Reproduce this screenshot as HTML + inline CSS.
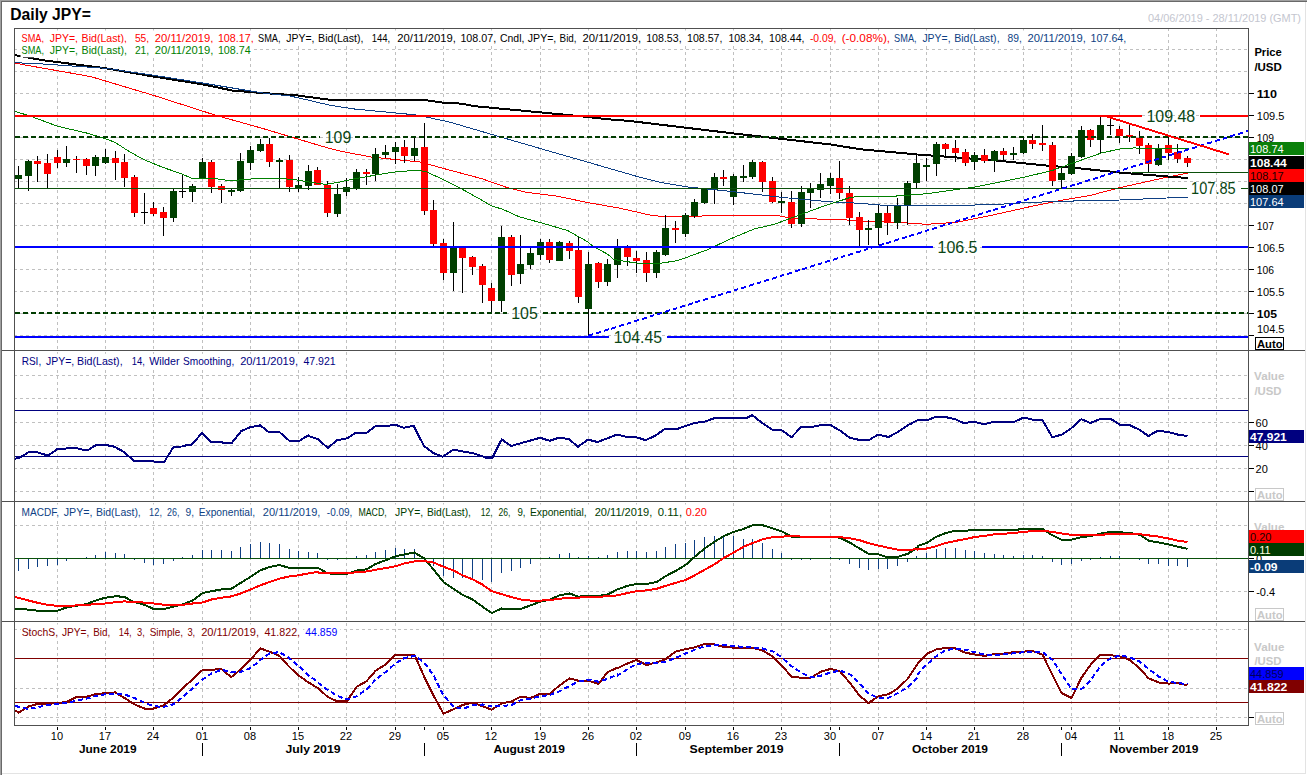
<!DOCTYPE html>
<html><head><meta charset="utf-8"><title>Daily JPY=</title>
<style>html,body{margin:0;padding:0;background:#fff}svg{display:block}</style></head>
<body>
<svg width="1307" height="775" viewBox="0 0 1307 775" font-family="Liberation Sans, sans-serif">
<rect width="1307" height="775" fill="#fff"/>
<g shape-rendering="crispEdges">
<rect x="0" y="0" width="1307" height="1" fill="#a0a0a0"/><rect x="0" y="0" width="1" height="775" fill="#a0a0a0"/>
<rect x="1" y="1" width="1306" height="1" fill="#696969"/><rect x="1" y="1" width="1" height="774" fill="#696969"/>
<rect x="1305" y="2" width="1" height="772" fill="#e3e3e3"/><rect x="2" y="773" width="1304" height="1" fill="#e3e3e3"/>
<line x1="57.5" x2="57.5" y1="28" y2="350" stroke="#c0c0c0" stroke-width="1" stroke-dasharray="3 3"/>
<line x1="57.5" x2="57.5" y1="352" y2="501" stroke="#c0c0c0" stroke-width="1" stroke-dasharray="3 3"/>
<line x1="57.5" x2="57.5" y1="503" y2="621" stroke="#c0c0c0" stroke-width="1" stroke-dasharray="3 3"/>
<line x1="57.5" x2="57.5" y1="623" y2="725" stroke="#c0c0c0" stroke-width="1" stroke-dasharray="3 3"/>
<line x1="105.5" x2="105.5" y1="28" y2="350" stroke="#c0c0c0" stroke-width="1" stroke-dasharray="3 3"/>
<line x1="105.5" x2="105.5" y1="352" y2="501" stroke="#c0c0c0" stroke-width="1" stroke-dasharray="3 3"/>
<line x1="105.5" x2="105.5" y1="503" y2="621" stroke="#c0c0c0" stroke-width="1" stroke-dasharray="3 3"/>
<line x1="105.5" x2="105.5" y1="623" y2="725" stroke="#c0c0c0" stroke-width="1" stroke-dasharray="3 3"/>
<line x1="153.5" x2="153.5" y1="28" y2="350" stroke="#c0c0c0" stroke-width="1" stroke-dasharray="3 3"/>
<line x1="153.5" x2="153.5" y1="352" y2="501" stroke="#c0c0c0" stroke-width="1" stroke-dasharray="3 3"/>
<line x1="153.5" x2="153.5" y1="503" y2="621" stroke="#c0c0c0" stroke-width="1" stroke-dasharray="3 3"/>
<line x1="153.5" x2="153.5" y1="623" y2="725" stroke="#c0c0c0" stroke-width="1" stroke-dasharray="3 3"/>
<line x1="202.5" x2="202.5" y1="28" y2="350" stroke="#c0c0c0" stroke-width="1" stroke-dasharray="3 3"/>
<line x1="202.5" x2="202.5" y1="352" y2="501" stroke="#c0c0c0" stroke-width="1" stroke-dasharray="3 3"/>
<line x1="202.5" x2="202.5" y1="503" y2="621" stroke="#c0c0c0" stroke-width="1" stroke-dasharray="3 3"/>
<line x1="202.5" x2="202.5" y1="623" y2="725" stroke="#c0c0c0" stroke-width="1" stroke-dasharray="3 3"/>
<line x1="250.5" x2="250.5" y1="28" y2="350" stroke="#c0c0c0" stroke-width="1" stroke-dasharray="3 3"/>
<line x1="250.5" x2="250.5" y1="352" y2="501" stroke="#c0c0c0" stroke-width="1" stroke-dasharray="3 3"/>
<line x1="250.5" x2="250.5" y1="503" y2="621" stroke="#c0c0c0" stroke-width="1" stroke-dasharray="3 3"/>
<line x1="250.5" x2="250.5" y1="623" y2="725" stroke="#c0c0c0" stroke-width="1" stroke-dasharray="3 3"/>
<line x1="298.5" x2="298.5" y1="28" y2="350" stroke="#c0c0c0" stroke-width="1" stroke-dasharray="3 3"/>
<line x1="298.5" x2="298.5" y1="352" y2="501" stroke="#c0c0c0" stroke-width="1" stroke-dasharray="3 3"/>
<line x1="298.5" x2="298.5" y1="503" y2="621" stroke="#c0c0c0" stroke-width="1" stroke-dasharray="3 3"/>
<line x1="298.5" x2="298.5" y1="623" y2="725" stroke="#c0c0c0" stroke-width="1" stroke-dasharray="3 3"/>
<line x1="346.5" x2="346.5" y1="28" y2="350" stroke="#c0c0c0" stroke-width="1" stroke-dasharray="3 3"/>
<line x1="346.5" x2="346.5" y1="352" y2="501" stroke="#c0c0c0" stroke-width="1" stroke-dasharray="3 3"/>
<line x1="346.5" x2="346.5" y1="503" y2="621" stroke="#c0c0c0" stroke-width="1" stroke-dasharray="3 3"/>
<line x1="346.5" x2="346.5" y1="623" y2="725" stroke="#c0c0c0" stroke-width="1" stroke-dasharray="3 3"/>
<line x1="395.5" x2="395.5" y1="28" y2="350" stroke="#c0c0c0" stroke-width="1" stroke-dasharray="3 3"/>
<line x1="395.5" x2="395.5" y1="352" y2="501" stroke="#c0c0c0" stroke-width="1" stroke-dasharray="3 3"/>
<line x1="395.5" x2="395.5" y1="503" y2="621" stroke="#c0c0c0" stroke-width="1" stroke-dasharray="3 3"/>
<line x1="395.5" x2="395.5" y1="623" y2="725" stroke="#c0c0c0" stroke-width="1" stroke-dasharray="3 3"/>
<line x1="443.5" x2="443.5" y1="28" y2="350" stroke="#c0c0c0" stroke-width="1" stroke-dasharray="3 3"/>
<line x1="443.5" x2="443.5" y1="352" y2="501" stroke="#c0c0c0" stroke-width="1" stroke-dasharray="3 3"/>
<line x1="443.5" x2="443.5" y1="503" y2="621" stroke="#c0c0c0" stroke-width="1" stroke-dasharray="3 3"/>
<line x1="443.5" x2="443.5" y1="623" y2="725" stroke="#c0c0c0" stroke-width="1" stroke-dasharray="3 3"/>
<line x1="491.5" x2="491.5" y1="28" y2="350" stroke="#c0c0c0" stroke-width="1" stroke-dasharray="3 3"/>
<line x1="491.5" x2="491.5" y1="352" y2="501" stroke="#c0c0c0" stroke-width="1" stroke-dasharray="3 3"/>
<line x1="491.5" x2="491.5" y1="503" y2="621" stroke="#c0c0c0" stroke-width="1" stroke-dasharray="3 3"/>
<line x1="491.5" x2="491.5" y1="623" y2="725" stroke="#c0c0c0" stroke-width="1" stroke-dasharray="3 3"/>
<line x1="540.5" x2="540.5" y1="28" y2="350" stroke="#c0c0c0" stroke-width="1" stroke-dasharray="3 3"/>
<line x1="540.5" x2="540.5" y1="352" y2="501" stroke="#c0c0c0" stroke-width="1" stroke-dasharray="3 3"/>
<line x1="540.5" x2="540.5" y1="503" y2="621" stroke="#c0c0c0" stroke-width="1" stroke-dasharray="3 3"/>
<line x1="540.5" x2="540.5" y1="623" y2="725" stroke="#c0c0c0" stroke-width="1" stroke-dasharray="3 3"/>
<line x1="588.5" x2="588.5" y1="28" y2="350" stroke="#c0c0c0" stroke-width="1" stroke-dasharray="3 3"/>
<line x1="588.5" x2="588.5" y1="352" y2="501" stroke="#c0c0c0" stroke-width="1" stroke-dasharray="3 3"/>
<line x1="588.5" x2="588.5" y1="503" y2="621" stroke="#c0c0c0" stroke-width="1" stroke-dasharray="3 3"/>
<line x1="588.5" x2="588.5" y1="623" y2="725" stroke="#c0c0c0" stroke-width="1" stroke-dasharray="3 3"/>
<line x1="636.5" x2="636.5" y1="28" y2="350" stroke="#c0c0c0" stroke-width="1" stroke-dasharray="3 3"/>
<line x1="636.5" x2="636.5" y1="352" y2="501" stroke="#c0c0c0" stroke-width="1" stroke-dasharray="3 3"/>
<line x1="636.5" x2="636.5" y1="503" y2="621" stroke="#c0c0c0" stroke-width="1" stroke-dasharray="3 3"/>
<line x1="636.5" x2="636.5" y1="623" y2="725" stroke="#c0c0c0" stroke-width="1" stroke-dasharray="3 3"/>
<line x1="685.5" x2="685.5" y1="28" y2="350" stroke="#c0c0c0" stroke-width="1" stroke-dasharray="3 3"/>
<line x1="685.5" x2="685.5" y1="352" y2="501" stroke="#c0c0c0" stroke-width="1" stroke-dasharray="3 3"/>
<line x1="685.5" x2="685.5" y1="503" y2="621" stroke="#c0c0c0" stroke-width="1" stroke-dasharray="3 3"/>
<line x1="685.5" x2="685.5" y1="623" y2="725" stroke="#c0c0c0" stroke-width="1" stroke-dasharray="3 3"/>
<line x1="733.5" x2="733.5" y1="28" y2="350" stroke="#c0c0c0" stroke-width="1" stroke-dasharray="3 3"/>
<line x1="733.5" x2="733.5" y1="352" y2="501" stroke="#c0c0c0" stroke-width="1" stroke-dasharray="3 3"/>
<line x1="733.5" x2="733.5" y1="503" y2="621" stroke="#c0c0c0" stroke-width="1" stroke-dasharray="3 3"/>
<line x1="733.5" x2="733.5" y1="623" y2="725" stroke="#c0c0c0" stroke-width="1" stroke-dasharray="3 3"/>
<line x1="781.5" x2="781.5" y1="28" y2="350" stroke="#c0c0c0" stroke-width="1" stroke-dasharray="3 3"/>
<line x1="781.5" x2="781.5" y1="352" y2="501" stroke="#c0c0c0" stroke-width="1" stroke-dasharray="3 3"/>
<line x1="781.5" x2="781.5" y1="503" y2="621" stroke="#c0c0c0" stroke-width="1" stroke-dasharray="3 3"/>
<line x1="781.5" x2="781.5" y1="623" y2="725" stroke="#c0c0c0" stroke-width="1" stroke-dasharray="3 3"/>
<line x1="830.5" x2="830.5" y1="28" y2="350" stroke="#c0c0c0" stroke-width="1" stroke-dasharray="3 3"/>
<line x1="830.5" x2="830.5" y1="352" y2="501" stroke="#c0c0c0" stroke-width="1" stroke-dasharray="3 3"/>
<line x1="830.5" x2="830.5" y1="503" y2="621" stroke="#c0c0c0" stroke-width="1" stroke-dasharray="3 3"/>
<line x1="830.5" x2="830.5" y1="623" y2="725" stroke="#c0c0c0" stroke-width="1" stroke-dasharray="3 3"/>
<line x1="878.5" x2="878.5" y1="28" y2="350" stroke="#c0c0c0" stroke-width="1" stroke-dasharray="3 3"/>
<line x1="878.5" x2="878.5" y1="352" y2="501" stroke="#c0c0c0" stroke-width="1" stroke-dasharray="3 3"/>
<line x1="878.5" x2="878.5" y1="503" y2="621" stroke="#c0c0c0" stroke-width="1" stroke-dasharray="3 3"/>
<line x1="878.5" x2="878.5" y1="623" y2="725" stroke="#c0c0c0" stroke-width="1" stroke-dasharray="3 3"/>
<line x1="926.5" x2="926.5" y1="28" y2="350" stroke="#c0c0c0" stroke-width="1" stroke-dasharray="3 3"/>
<line x1="926.5" x2="926.5" y1="352" y2="501" stroke="#c0c0c0" stroke-width="1" stroke-dasharray="3 3"/>
<line x1="926.5" x2="926.5" y1="503" y2="621" stroke="#c0c0c0" stroke-width="1" stroke-dasharray="3 3"/>
<line x1="926.5" x2="926.5" y1="623" y2="725" stroke="#c0c0c0" stroke-width="1" stroke-dasharray="3 3"/>
<line x1="974.5" x2="974.5" y1="28" y2="350" stroke="#c0c0c0" stroke-width="1" stroke-dasharray="3 3"/>
<line x1="974.5" x2="974.5" y1="352" y2="501" stroke="#c0c0c0" stroke-width="1" stroke-dasharray="3 3"/>
<line x1="974.5" x2="974.5" y1="503" y2="621" stroke="#c0c0c0" stroke-width="1" stroke-dasharray="3 3"/>
<line x1="974.5" x2="974.5" y1="623" y2="725" stroke="#c0c0c0" stroke-width="1" stroke-dasharray="3 3"/>
<line x1="1023.5" x2="1023.5" y1="28" y2="350" stroke="#c0c0c0" stroke-width="1" stroke-dasharray="3 3"/>
<line x1="1023.5" x2="1023.5" y1="352" y2="501" stroke="#c0c0c0" stroke-width="1" stroke-dasharray="3 3"/>
<line x1="1023.5" x2="1023.5" y1="503" y2="621" stroke="#c0c0c0" stroke-width="1" stroke-dasharray="3 3"/>
<line x1="1023.5" x2="1023.5" y1="623" y2="725" stroke="#c0c0c0" stroke-width="1" stroke-dasharray="3 3"/>
<line x1="1071.5" x2="1071.5" y1="28" y2="350" stroke="#c0c0c0" stroke-width="1" stroke-dasharray="3 3"/>
<line x1="1071.5" x2="1071.5" y1="352" y2="501" stroke="#c0c0c0" stroke-width="1" stroke-dasharray="3 3"/>
<line x1="1071.5" x2="1071.5" y1="503" y2="621" stroke="#c0c0c0" stroke-width="1" stroke-dasharray="3 3"/>
<line x1="1071.5" x2="1071.5" y1="623" y2="725" stroke="#c0c0c0" stroke-width="1" stroke-dasharray="3 3"/>
<line x1="1119.5" x2="1119.5" y1="28" y2="350" stroke="#c0c0c0" stroke-width="1" stroke-dasharray="3 3"/>
<line x1="1119.5" x2="1119.5" y1="352" y2="501" stroke="#c0c0c0" stroke-width="1" stroke-dasharray="3 3"/>
<line x1="1119.5" x2="1119.5" y1="503" y2="621" stroke="#c0c0c0" stroke-width="1" stroke-dasharray="3 3"/>
<line x1="1119.5" x2="1119.5" y1="623" y2="725" stroke="#c0c0c0" stroke-width="1" stroke-dasharray="3 3"/>
<line x1="1168.5" x2="1168.5" y1="28" y2="350" stroke="#c0c0c0" stroke-width="1" stroke-dasharray="3 3"/>
<line x1="1168.5" x2="1168.5" y1="352" y2="501" stroke="#c0c0c0" stroke-width="1" stroke-dasharray="3 3"/>
<line x1="1168.5" x2="1168.5" y1="503" y2="621" stroke="#c0c0c0" stroke-width="1" stroke-dasharray="3 3"/>
<line x1="1168.5" x2="1168.5" y1="623" y2="725" stroke="#c0c0c0" stroke-width="1" stroke-dasharray="3 3"/>
<line x1="1216.5" x2="1216.5" y1="28" y2="350" stroke="#c0c0c0" stroke-width="1" stroke-dasharray="3 3"/>
<line x1="1216.5" x2="1216.5" y1="352" y2="501" stroke="#c0c0c0" stroke-width="1" stroke-dasharray="3 3"/>
<line x1="1216.5" x2="1216.5" y1="503" y2="621" stroke="#c0c0c0" stroke-width="1" stroke-dasharray="3 3"/>
<line x1="1216.5" x2="1216.5" y1="623" y2="725" stroke="#c0c0c0" stroke-width="1" stroke-dasharray="3 3"/>
<line x1="14" x2="1248" y1="49.5" y2="49.5" stroke="#c0c0c0" stroke-width="1" stroke-dasharray="3 3" stroke-dashoffset="0"/>
<line x1="14" x2="1248" y1="71.5" y2="71.5" stroke="#c0c0c0" stroke-width="1" stroke-dasharray="3 3" stroke-dashoffset="0"/>
<line x1="14" x2="1248" y1="93.5" y2="93.5" stroke="#c0c0c0" stroke-width="1" stroke-dasharray="3 3" stroke-dashoffset="0"/>
<line x1="14" x2="1248" y1="115.5" y2="115.5" stroke="#c0c0c0" stroke-width="1" stroke-dasharray="3 3" stroke-dashoffset="0"/>
<line x1="14" x2="1248" y1="137.5" y2="137.5" stroke="#c0c0c0" stroke-width="1" stroke-dasharray="3 3" stroke-dashoffset="0"/>
<line x1="14" x2="1248" y1="159.5" y2="159.5" stroke="#c0c0c0" stroke-width="1" stroke-dasharray="3 3" stroke-dashoffset="0"/>
<line x1="14" x2="1248" y1="181.5" y2="181.5" stroke="#c0c0c0" stroke-width="1" stroke-dasharray="3 3" stroke-dashoffset="0"/>
<line x1="14" x2="1248" y1="203.5" y2="203.5" stroke="#c0c0c0" stroke-width="1" stroke-dasharray="3 3" stroke-dashoffset="0"/>
<line x1="14" x2="1248" y1="225.5" y2="225.5" stroke="#c0c0c0" stroke-width="1" stroke-dasharray="3 3" stroke-dashoffset="0"/>
<line x1="14" x2="1248" y1="247.5" y2="247.5" stroke="#c0c0c0" stroke-width="1" stroke-dasharray="3 3" stroke-dashoffset="0"/>
<line x1="14" x2="1248" y1="269.5" y2="269.5" stroke="#c0c0c0" stroke-width="1" stroke-dasharray="3 3" stroke-dashoffset="0"/>
<line x1="14" x2="1248" y1="291.5" y2="291.5" stroke="#c0c0c0" stroke-width="1" stroke-dasharray="3 3" stroke-dashoffset="0"/>
<line x1="14" x2="1248" y1="313.5" y2="313.5" stroke="#c0c0c0" stroke-width="1" stroke-dasharray="3 3" stroke-dashoffset="0"/>
<line x1="14" x2="1248" y1="335.5" y2="335.5" stroke="#c0c0c0" stroke-width="1" stroke-dasharray="3 3" stroke-dashoffset="0"/>
<line x1="14" x2="1248" y1="375.5" y2="375.5" stroke="#c0c0c0" stroke-width="1" stroke-dasharray="3 3" stroke-dashoffset="0"/>
<line x1="14" x2="1248" y1="398.5" y2="398.5" stroke="#c0c0c0" stroke-width="1" stroke-dasharray="3 3" stroke-dashoffset="0"/>
<line x1="14" x2="1248" y1="422.5" y2="422.5" stroke="#c0c0c0" stroke-width="1" stroke-dasharray="3 3" stroke-dashoffset="0"/>
<line x1="14" x2="1248" y1="445.5" y2="445.5" stroke="#c0c0c0" stroke-width="1" stroke-dasharray="3 3" stroke-dashoffset="0"/>
<line x1="14" x2="1248" y1="468.5" y2="468.5" stroke="#c0c0c0" stroke-width="1" stroke-dasharray="3 3" stroke-dashoffset="0"/>
<line x1="14" x2="1248" y1="491.5" y2="491.5" stroke="#c0c0c0" stroke-width="1" stroke-dasharray="3 3" stroke-dashoffset="0"/>
<line x1="14" x2="1248" y1="525.5" y2="525.5" stroke="#c0c0c0" stroke-width="1" stroke-dasharray="3 3" stroke-dashoffset="0"/>
<line x1="14" x2="1248" y1="591.5" y2="591.5" stroke="#c0c0c0" stroke-width="1" stroke-dasharray="3 3" stroke-dashoffset="0"/>
<line x1="14" x2="1248" y1="629.5" y2="629.5" stroke="#c0c0c0" stroke-width="1" stroke-dasharray="3 3" stroke-dashoffset="0"/>
<line x1="14" x2="1248" y1="688.5" y2="688.5" stroke="#c0c0c0" stroke-width="1" stroke-dasharray="3 3" stroke-dashoffset="0"/>
<line x1="14" x2="1248" y1="717.5" y2="717.5" stroke="#c0c0c0" stroke-width="1" stroke-dasharray="3 3" stroke-dashoffset="0"/>
</g>
<g shape-rendering="crispEdges">
<path d="M15.0 63.2 L58.0 70.8 L90.8 76.6 L153.9 95.5 L217.0 115.7 L262.5 128.4 L297.8 139.0 L325.6 147.3 L340.0 151.1 L371.7 157.1 L420.9 162.1 L443.6 168.5 L481.5 178.6 L506.7 187.4 L526.9 192.4 L557.2 196.2 L587.5 202.5 L620.3 208.3 L650.6 215.2 L660.0 216.2 L687.4 216.2 L775.4 215.1 L792.6 218.5 L840.4 219.5 L860.0 221.1 L898.3 222.4 L926.9 224.3 L955.6 222.4 L993.9 214.8 L1032.1 206.2 L1060.8 200.4 L1089.5 195.6 L1120.1 187.6 L1167.9 177.0 L1187.6 173.2" fill="none" stroke="#ff0000" stroke-width="1" />
<path d="M15.0 55.1 L42.8 60.2 L105.9 68.3 L153.9 76.6 L201.9 84.2 L232.2 90.5 L262.5 93.0 L297.8 95.5 L330.0 99.8 L423.4 99.8 L443.6 102.8 L461.3 103.6 L473.9 106.1 L572.4 115.4 L607.7 119.2 L630.0 121.0 L733.3 133.4 L830.8 144.5 L860.0 149.2 L917.4 154.5 L993.9 160.3 L1051.3 166.0 L1076.1 168.0 L1120.1 172.6 L1167.9 176.5 L1187.6 178.0" fill="none" stroke="#000" stroke-width="2" />
<rect x="18" y="166" width="1" height="22" fill="#000"/>
<rect x="15" y="175" width="7" height="4" fill="#003f00"/>
<rect x="28" y="160" width="1" height="31" fill="#000"/>
<rect x="25" y="161" width="7" height="15" fill="#003f00"/>
<rect x="37" y="156" width="1" height="26" fill="#000"/>
<rect x="34" y="161" width="7" height="3" fill="#ff0000"/>
<rect x="47" y="154" width="1" height="34" fill="#000"/>
<rect x="44" y="163" width="7" height="11" fill="#ff0000"/>
<rect x="57" y="150" width="1" height="18" fill="#000"/>
<rect x="54" y="157" width="7" height="6" fill="#ff0000"/>
<rect x="66" y="146" width="1" height="21" fill="#000"/>
<rect x="63" y="159" width="7" height="4" fill="#003f00"/>
<rect x="76" y="156" width="1" height="17" fill="#000"/>
<rect x="73" y="159" width="7" height="1" fill="#ff0000"/>
<rect x="86" y="158" width="1" height="17" fill="#000"/>
<rect x="83" y="159" width="7" height="7" fill="#ff0000"/>
<rect x="95" y="155" width="1" height="21" fill="#000"/>
<rect x="92" y="157" width="7" height="9" fill="#003f00"/>
<rect x="105" y="149" width="1" height="15" fill="#000"/>
<rect x="102" y="157" width="7" height="6" fill="#003f00"/>
<rect x="115" y="151" width="1" height="29" fill="#000"/>
<rect x="112" y="158" width="7" height="5" fill="#ff0000"/>
<rect x="124" y="154" width="1" height="33" fill="#000"/>
<rect x="121" y="162" width="7" height="16" fill="#ff0000"/>
<rect x="134" y="175" width="1" height="42" fill="#000"/>
<rect x="131" y="177" width="7" height="36" fill="#ff0000"/>
<rect x="144" y="193" width="1" height="31" fill="#000"/>
<rect x="141" y="212" width="7" height="1" fill="#000"/>
<rect x="153" y="202" width="1" height="14" fill="#000"/>
<rect x="150" y="208" width="7" height="6" fill="#ff0000"/>
<rect x="163" y="207" width="1" height="29" fill="#000"/>
<rect x="160" y="212" width="7" height="6" fill="#ff0000"/>
<rect x="173" y="188" width="1" height="34" fill="#000"/>
<rect x="170" y="191" width="7" height="27" fill="#003f00"/>
<rect x="182" y="175" width="1" height="23" fill="#000"/>
<rect x="179" y="191" width="7" height="1" fill="#000"/>
<rect x="192" y="184" width="1" height="18" fill="#000"/>
<rect x="189" y="186" width="7" height="6" fill="#003f00"/>
<rect x="202" y="158" width="1" height="20" fill="#000"/>
<rect x="199" y="162" width="7" height="16" fill="#003f00"/>
<rect x="211" y="160" width="1" height="33" fill="#000"/>
<rect x="208" y="162" width="7" height="25" fill="#ff0000"/>
<rect x="221" y="184" width="1" height="19" fill="#000"/>
<rect x="218" y="186" width="7" height="4" fill="#ff0000"/>
<rect x="231" y="188" width="1" height="8" fill="#000"/>
<rect x="228" y="190" width="7" height="2" fill="#003f00"/>
<rect x="240" y="153" width="1" height="39" fill="#000"/>
<rect x="237" y="161" width="7" height="30" fill="#003f00"/>
<rect x="250" y="146" width="1" height="24" fill="#000"/>
<rect x="247" y="150" width="7" height="13" fill="#003f00"/>
<rect x="260" y="139" width="1" height="13" fill="#000"/>
<rect x="257" y="144" width="7" height="7" fill="#003f00"/>
<rect x="269" y="138" width="1" height="29" fill="#000"/>
<rect x="266" y="144" width="7" height="18" fill="#ff0000"/>
<rect x="279" y="158" width="1" height="30" fill="#000"/>
<rect x="276" y="160" width="7" height="2" fill="#003f00"/>
<rect x="289" y="155" width="1" height="37" fill="#000"/>
<rect x="286" y="160" width="7" height="27" fill="#ff0000"/>
<rect x="298" y="177" width="1" height="15" fill="#000"/>
<rect x="295" y="185" width="7" height="3" fill="#003f00"/>
<rect x="308" y="165" width="1" height="25" fill="#000"/>
<rect x="305" y="171" width="7" height="15" fill="#003f00"/>
<rect x="317" y="167" width="1" height="18" fill="#000"/>
<rect x="314" y="170" width="7" height="15" fill="#ff0000"/>
<rect x="327" y="181" width="1" height="36" fill="#000"/>
<rect x="324" y="185" width="7" height="28" fill="#ff0000"/>
<rect x="337" y="184" width="1" height="33" fill="#000"/>
<rect x="334" y="194" width="7" height="20" fill="#003f00"/>
<rect x="346" y="178" width="1" height="18" fill="#000"/>
<rect x="343" y="187" width="7" height="5" fill="#003f00"/>
<rect x="356" y="169" width="1" height="21" fill="#000"/>
<rect x="353" y="172" width="7" height="17" fill="#003f00"/>
<rect x="366" y="169" width="1" height="16" fill="#000"/>
<rect x="363" y="172" width="7" height="2" fill="#ff0000"/>
<rect x="375" y="148" width="1" height="33" fill="#000"/>
<rect x="372" y="154" width="7" height="20" fill="#003f00"/>
<rect x="385" y="145" width="1" height="13" fill="#000"/>
<rect x="382" y="152" width="7" height="3" fill="#003f00"/>
<rect x="395" y="142" width="1" height="22" fill="#000"/>
<rect x="392" y="147" width="7" height="5" fill="#003f00"/>
<rect x="404" y="140" width="1" height="23" fill="#000"/>
<rect x="401" y="147" width="7" height="9" fill="#ff0000"/>
<rect x="414" y="137" width="1" height="24" fill="#000"/>
<rect x="411" y="148" width="7" height="8" fill="#003f00"/>
<rect x="424" y="123" width="1" height="92" fill="#000"/>
<rect x="421" y="147" width="7" height="64" fill="#ff0000"/>
<rect x="433" y="200" width="1" height="47" fill="#000"/>
<rect x="430" y="210" width="7" height="34" fill="#ff0000"/>
<rect x="443" y="239" width="1" height="41" fill="#000"/>
<rect x="440" y="243" width="7" height="30" fill="#ff0000"/>
<rect x="453" y="222" width="1" height="69" fill="#000"/>
<rect x="450" y="248" width="7" height="25" fill="#003f00"/>
<rect x="462" y="247" width="1" height="46" fill="#000"/>
<rect x="459" y="248" width="7" height="10" fill="#ff0000"/>
<rect x="472" y="256" width="1" height="19" fill="#000"/>
<rect x="469" y="257" width="7" height="10" fill="#ff0000"/>
<rect x="482" y="264" width="1" height="39" fill="#000"/>
<rect x="479" y="266" width="7" height="19" fill="#ff0000"/>
<rect x="491" y="283" width="1" height="30" fill="#000"/>
<rect x="488" y="288" width="7" height="13" fill="#ff0000"/>
<rect x="501" y="226" width="1" height="86" fill="#000"/>
<rect x="498" y="237" width="7" height="64" fill="#003f00"/>
<rect x="511" y="235" width="1" height="51" fill="#000"/>
<rect x="508" y="237" width="7" height="38" fill="#ff0000"/>
<rect x="520" y="235" width="1" height="49" fill="#000"/>
<rect x="517" y="264" width="7" height="10" fill="#003f00"/>
<rect x="530" y="248" width="1" height="21" fill="#000"/>
<rect x="527" y="253" width="7" height="12" fill="#003f00"/>
<rect x="540" y="239" width="1" height="21" fill="#000"/>
<rect x="537" y="242" width="7" height="13" fill="#003f00"/>
<rect x="549" y="239" width="1" height="24" fill="#000"/>
<rect x="546" y="242" width="7" height="18" fill="#ff0000"/>
<rect x="559" y="241" width="1" height="20" fill="#000"/>
<rect x="556" y="242" width="7" height="19" fill="#003f00"/>
<rect x="569" y="241" width="1" height="18" fill="#000"/>
<rect x="566" y="243" width="7" height="8" fill="#ff0000"/>
<rect x="578" y="237" width="1" height="66" fill="#000"/>
<rect x="575" y="250" width="7" height="47" fill="#ff0000"/>
<rect x="588" y="252" width="1" height="85" fill="#000"/>
<rect x="585" y="264" width="7" height="45" fill="#003f00"/>
<rect x="598" y="262" width="1" height="26" fill="#000"/>
<rect x="595" y="263" width="7" height="19" fill="#ff0000"/>
<rect x="607" y="259" width="1" height="27" fill="#000"/>
<rect x="604" y="264" width="7" height="18" fill="#003f00"/>
<rect x="617" y="239" width="1" height="39" fill="#000"/>
<rect x="614" y="248" width="7" height="17" fill="#003f00"/>
<rect x="627" y="245" width="1" height="21" fill="#000"/>
<rect x="624" y="248" width="7" height="9" fill="#ff0000"/>
<rect x="636" y="251" width="1" height="22" fill="#000"/>
<rect x="633" y="258" width="7" height="3" fill="#ff0000"/>
<rect x="646" y="252" width="1" height="30" fill="#000"/>
<rect x="643" y="260" width="7" height="13" fill="#ff0000"/>
<rect x="656" y="250" width="1" height="28" fill="#000"/>
<rect x="653" y="252" width="7" height="21" fill="#003f00"/>
<rect x="665" y="215" width="1" height="41" fill="#000"/>
<rect x="662" y="228" width="7" height="27" fill="#003f00"/>
<rect x="675" y="221" width="1" height="22" fill="#000"/>
<rect x="672" y="228" width="7" height="2" fill="#ff0000"/>
<rect x="685" y="213" width="1" height="24" fill="#000"/>
<rect x="682" y="215" width="7" height="19" fill="#003f00"/>
<rect x="694" y="199" width="1" height="19" fill="#000"/>
<rect x="691" y="202" width="7" height="14" fill="#003f00"/>
<rect x="704" y="188" width="1" height="16" fill="#000"/>
<rect x="701" y="189" width="7" height="14" fill="#003f00"/>
<rect x="714" y="173" width="1" height="31" fill="#000"/>
<rect x="711" y="177" width="7" height="13" fill="#003f00"/>
<rect x="723" y="170" width="1" height="16" fill="#000"/>
<rect x="720" y="177" width="7" height="2" fill="#ff0000"/>
<rect x="733" y="174" width="1" height="31" fill="#000"/>
<rect x="730" y="176" width="7" height="21" fill="#003f00"/>
<rect x="743" y="165" width="1" height="17" fill="#000"/>
<rect x="740" y="176" width="7" height="2" fill="#003f00"/>
<rect x="752" y="160" width="1" height="19" fill="#000"/>
<rect x="749" y="162" width="7" height="15" fill="#003f00"/>
<rect x="762" y="161" width="1" height="31" fill="#000"/>
<rect x="759" y="162" width="7" height="20" fill="#ff0000"/>
<rect x="772" y="177" width="1" height="26" fill="#000"/>
<rect x="769" y="181" width="7" height="21" fill="#ff0000"/>
<rect x="781" y="192" width="1" height="21" fill="#000"/>
<rect x="778" y="201" width="7" height="2" fill="#003f00"/>
<rect x="791" y="191" width="1" height="37" fill="#000"/>
<rect x="788" y="202" width="7" height="22" fill="#ff0000"/>
<rect x="801" y="186" width="1" height="41" fill="#000"/>
<rect x="798" y="192" width="7" height="32" fill="#003f00"/>
<rect x="810" y="183" width="1" height="25" fill="#000"/>
<rect x="807" y="188" width="7" height="5" fill="#003f00"/>
<rect x="820" y="173" width="1" height="25" fill="#000"/>
<rect x="817" y="184" width="7" height="6" fill="#003f00"/>
<rect x="830" y="173" width="1" height="21" fill="#000"/>
<rect x="827" y="178" width="7" height="8" fill="#003f00"/>
<rect x="839" y="161" width="1" height="38" fill="#000"/>
<rect x="836" y="178" width="7" height="15" fill="#ff0000"/>
<rect x="849" y="186" width="1" height="39" fill="#000"/>
<rect x="846" y="193" width="7" height="25" fill="#ff0000"/>
<rect x="859" y="212" width="1" height="36" fill="#000"/>
<rect x="856" y="217" width="7" height="13" fill="#ff0000"/>
<rect x="868" y="220" width="1" height="25" fill="#000"/>
<rect x="865" y="228" width="7" height="2" fill="#003f00"/>
<rect x="878" y="205" width="1" height="40" fill="#000"/>
<rect x="875" y="213" width="7" height="15" fill="#003f00"/>
<rect x="887" y="206" width="1" height="29" fill="#000"/>
<rect x="884" y="213" width="7" height="10" fill="#ff0000"/>
<rect x="897" y="198" width="1" height="31" fill="#000"/>
<rect x="894" y="205" width="7" height="18" fill="#003f00"/>
<rect x="907" y="181" width="1" height="44" fill="#000"/>
<rect x="904" y="183" width="7" height="23" fill="#003f00"/>
<rect x="916" y="155" width="1" height="33" fill="#000"/>
<rect x="913" y="163" width="7" height="20" fill="#003f00"/>
<rect x="926" y="158" width="1" height="23" fill="#000"/>
<rect x="923" y="165" width="7" height="2" fill="#003f00"/>
<rect x="936" y="142" width="1" height="34" fill="#000"/>
<rect x="933" y="144" width="7" height="20" fill="#003f00"/>
<rect x="945" y="143" width="1" height="15" fill="#000"/>
<rect x="942" y="144" width="7" height="5" fill="#ff0000"/>
<rect x="955" y="140" width="1" height="22" fill="#000"/>
<rect x="952" y="148" width="7" height="5" fill="#ff0000"/>
<rect x="965" y="149" width="1" height="17" fill="#000"/>
<rect x="962" y="152" width="7" height="11" fill="#ff0000"/>
<rect x="974" y="152" width="1" height="18" fill="#000"/>
<rect x="971" y="155" width="7" height="7" fill="#003f00"/>
<rect x="984" y="149" width="1" height="14" fill="#000"/>
<rect x="981" y="155" width="7" height="6" fill="#ff0000"/>
<rect x="994" y="150" width="1" height="22" fill="#000"/>
<rect x="991" y="151" width="7" height="10" fill="#003f00"/>
<rect x="1003" y="148" width="1" height="13" fill="#000"/>
<rect x="1000" y="151" width="7" height="4" fill="#ff0000"/>
<rect x="1013" y="147" width="1" height="13" fill="#000"/>
<rect x="1010" y="153" width="7" height="2" fill="#003f00"/>
<rect x="1023" y="138" width="1" height="16" fill="#000"/>
<rect x="1020" y="140" width="7" height="13" fill="#003f00"/>
<rect x="1032" y="134" width="1" height="15" fill="#000"/>
<rect x="1029" y="140" width="7" height="4" fill="#ff0000"/>
<rect x="1042" y="125" width="1" height="26" fill="#000"/>
<rect x="1039" y="143" width="7" height="2" fill="#ff0000"/>
<rect x="1052" y="142" width="1" height="44" fill="#000"/>
<rect x="1049" y="145" width="7" height="36" fill="#ff0000"/>
<rect x="1061" y="168" width="1" height="21" fill="#000"/>
<rect x="1058" y="173" width="7" height="7" fill="#003f00"/>
<rect x="1071" y="153" width="1" height="22" fill="#000"/>
<rect x="1068" y="156" width="7" height="18" fill="#003f00"/>
<rect x="1081" y="126" width="1" height="32" fill="#000"/>
<rect x="1078" y="130" width="7" height="27" fill="#003f00"/>
<rect x="1090" y="129" width="1" height="18" fill="#000"/>
<rect x="1087" y="130" width="7" height="10" fill="#ff0000"/>
<rect x="1100" y="117" width="1" height="36" fill="#000"/>
<rect x="1097" y="125" width="7" height="15" fill="#003f00"/>
<rect x="1110" y="118" width="1" height="17" fill="#000"/>
<rect x="1107" y="125" width="7" height="1" fill="#000"/>
<rect x="1119" y="126" width="1" height="17" fill="#000"/>
<rect x="1116" y="129" width="7" height="7" fill="#ff0000"/>
<rect x="1129" y="124" width="1" height="18" fill="#000"/>
<rect x="1126" y="135" width="7" height="2" fill="#ff0000"/>
<rect x="1139" y="131" width="1" height="23" fill="#000"/>
<rect x="1136" y="138" width="7" height="8" fill="#ff0000"/>
<rect x="1148" y="143" width="1" height="29" fill="#000"/>
<rect x="1145" y="145" width="7" height="19" fill="#ff0000"/>
<rect x="1158" y="144" width="1" height="22" fill="#000"/>
<rect x="1155" y="149" width="7" height="16" fill="#003f00"/>
<rect x="1168" y="136" width="1" height="24" fill="#000"/>
<rect x="1165" y="145" width="7" height="8" fill="#ff0000"/>
<rect x="1177" y="144" width="1" height="19" fill="#000"/>
<rect x="1174" y="152" width="7" height="7" fill="#ff0000"/>
<rect x="1187" y="156" width="1" height="11" fill="#000"/>
<rect x="1184" y="158" width="7" height="5" fill="#ff0000"/>
<path d="M15.0 62.7 L42.8 64.0 L105.9 68.3 L153.9 75.3 L201.9 82.9 L262.5 93.0 L290.0 96.0 L310.0 100.5 L330.0 105.3 L355.2 109.1 L415.8 114.9 L448.7 121.8 L491.6 134.4 L539.5 148.3 L587.5 162.1 L635.5 176.0 L660.0 182.3 L687.4 186.9 L733.3 191.7 L783.0 197.5 L830.8 201.9 L860.0 203.3 L888.7 205.8 L936.5 205.8 L993.9 204.6 L1032.1 202.3 L1080.0 200.8 L1120.1 200.0 L1187.6 197.1" fill="none" stroke="#0e3f84" stroke-width="1" />
<path d="M15.0 111.4 L29.1 115.7 L57.8 126.3 L86.5 133.0 L105.6 138.7 L115.2 142.5 L128.6 151.1 L143.9 159.7 L163.0 167.4 L182.1 174.1 L191.7 178.3 L212.8 178.3 L230.0 180.8 L249.0 179.2 L260.0 178.3 L280.1 178.3 L297.8 180.1 L313.0 182.6 L325.6 184.4 L340.0 182.0 L355.2 178.6 L393.1 172.2 L415.8 170.2 L425.9 171.5 L443.6 179.8 L461.3 188.7 L481.5 200.0 L491.6 206.0 L501.7 208.9 L519.4 216.8 L544.8 223.9 L567.5 230.5 L587.5 241.7 L592.6 245.9 L607.7 254.3 L613.6 259.3 L620.3 260.6 L636.6 263.1 L658.7 263.5 L677.8 260.6 L706.5 250.1 L733.3 237.6 L754.3 229.0 L775.4 223.9 L792.6 217.5 L821.3 207.0 L850.0 197.5 L860.0 196.2 L888.7 196.6 L926.9 193.7 L974.8 187.0 L1022.6 177.5 L1051.3 170.8 L1071.3 163.6 L1101.0 153.1 L1120.1 148.9 L1133.5 148.0 L1187.6 148.3" fill="none" stroke="#008000" stroke-width="1" />
<line x1="15" x2="1142" y1="116.0" y2="116.0" stroke="#ff0000" stroke-width="2"/>
<line x1="1200" x2="1248" y1="116.0" y2="116.0" stroke="#ff0000" stroke-width="2"/>
<line x1="15" x2="320" y1="137.0" y2="137.0" stroke="#003c00" stroke-width="2" stroke-dasharray="5 3" stroke-dashoffset="0"/>
<line x1="355" x2="1248" y1="137.0" y2="137.0" stroke="#003c00" stroke-width="2" stroke-dasharray="5 3" stroke-dashoffset="0"/>
<line x1="15" x2="1187" y1="188.5" y2="188.5" stroke="#0a500a" stroke-width="1"/>
<line x1="1241" x2="1248" y1="188.5" y2="188.5" stroke="#0a500a" stroke-width="1"/>
<line x1="1132" x2="1248" y1="172.5" y2="172.5" stroke="#0a500a" stroke-width="1"/>
<line x1="15" x2="933" y1="247.0" y2="247.0" stroke="#0000ff" stroke-width="2"/>
<line x1="982" x2="1248" y1="247.0" y2="247.0" stroke="#0000ff" stroke-width="2"/>
<line x1="15" x2="507" y1="313.0" y2="313.0" stroke="#003c00" stroke-width="2" stroke-dasharray="5 3" stroke-dashoffset="0"/>
<line x1="543" x2="1248" y1="313.0" y2="313.0" stroke="#003c00" stroke-width="2" stroke-dasharray="5 3" stroke-dashoffset="0"/>
<line x1="15" x2="609" y1="337.0" y2="337.0" stroke="#0000ff" stroke-width="2"/>
<line x1="667" x2="1248" y1="337.0" y2="337.0" stroke="#0000ff" stroke-width="2"/>
</g>
<g shape-rendering="crispEdges">
<path d="M588 335h1v2h-1zM589 334h3v2h-3zM592 333h1v2h-1zM596 332h3v2h-3zM599 331h2v2h-2zM604 330h1v2h-1zM605 329h3v2h-3zM608 328h1v2h-1zM611 328h1v2h-1zM612 327h3v2h-3zM615 326h1v2h-1zM619 325h2v2h-2zM621 324h3v2h-3zM627 323h1v2h-1zM628 322h3v2h-3zM634 320h3v2h-3zM637 319h2v2h-2zM642 318h2v2h-2zM644 317h3v2h-3zM650 315h3v2h-3zM653 314h1v2h-1zM657 313h3v2h-3zM660 312h2v2h-2zM665 311h1v2h-1zM666 310h3v2h-3zM669 309h1v2h-1zM673 308h3v2h-3zM676 307h1v2h-1zM680 306h2v2h-2zM682 305h3v2h-3zM688 304h1v2h-1zM689 303h3v2h-3zM692 302h1v2h-1zM695 301h3v2h-3zM698 300h2v2h-2zM703 299h2v2h-2zM705 298h3v2h-3zM711 296h4v2h-4zM715 295h1v2h-1zM718 294h3v2h-3zM721 293h2v2h-2zM726 292h1v2h-1zM727 291h4v2h-4zM734 289h3v2h-3zM737 288h1v2h-1zM741 287h3v2h-3zM744 286h2v2h-2zM749 285h1v2h-1zM750 284h3v2h-3zM753 283h1v2h-1zM757 282h3v2h-3zM760 281h1v2h-1zM764 280h2v2h-2zM766 279h3v2h-3zM772 278h1v2h-1zM773 277h3v2h-3zM776 276h1v2h-1zM780 275h2v2h-2zM782 274h2v2h-2zM787 273h2v2h-2zM789 272h3v2h-3zM795 270h3v2h-3zM798 269h2v2h-2zM802 268h3v2h-3zM805 267h2v2h-2zM810 266h1v2h-1zM811 265h3v2h-3zM814 264h1v2h-1zM818 263h3v2h-3zM821 262h1v2h-1zM825 261h2v2h-2zM827 260h3v2h-3zM833 259h1v2h-1zM834 258h3v2h-3zM837 257h1v2h-1zM841 256h2v2h-2zM843 255h2v2h-2zM848 254h2v2h-2zM850 253h3v2h-3zM856 251h4v2h-4zM860 250h1v2h-1zM864 249h2v2h-2zM866 248h2v2h-2zM871 247h1v2h-1zM872 246h4v2h-4zM879 244h3v2h-3zM882 243h2v2h-2zM886 242h3v2h-3zM889 241h2v2h-2zM894 240h1v2h-1zM895 239h3v2h-3zM898 238h1v2h-1zM902 237h3v2h-3zM905 236h2v2h-2zM909 235h2v2h-2zM911 234h3v2h-3zM917 233h1v2h-1zM918 232h3v2h-3zM921 231h1v2h-1zM925 230h2v2h-2zM927 229h2v2h-2zM932 228h2v2h-2zM934 227h3v2h-3zM940 225h3v2h-3zM943 224h2v2h-2zM948 223h2v2h-2zM950 222h2v2h-2zM955 221h1v2h-1zM956 220h3v2h-3zM959 219h1v2h-1zM963 218h3v2h-3zM966 217h2v2h-2zM971 216h1v2h-1zM972 215h3v2h-3zM978 214h1v2h-1zM979 213h3v2h-3zM982 212h1v2h-1zM986 211h2v2h-2zM988 210h3v2h-3zM993 209h2v2h-2zM995 208h3v2h-3zM1001 206h4v2h-4zM1005 205h1v2h-1zM1009 204h2v2h-2zM1011 203h2v2h-2zM1016 202h1v2h-1zM1017 201h4v2h-4zM1024 199h3v2h-3zM1027 198h2v2h-2zM1032 197h1v2h-1zM1033 196h3v2h-3zM1039 195h1v2h-1zM1040 194h3v2h-3zM1043 193h1v2h-1zM1047 192h3v2h-3zM1050 191h2v2h-2zM1055 190h1v2h-1zM1056 189h3v2h-3zM1062 187h4v2h-4zM1066 186h1v2h-1zM1070 185h2v2h-2zM1072 184h3v2h-3zM1077 183h2v2h-2zM1079 182h3v2h-3zM1085 180h3v2h-3zM1088 179h2v2h-2zM1093 178h2v2h-2zM1095 177h3v2h-3zM1100 176h1v2h-1zM1101 175h3v2h-3zM1104 174h1v2h-1zM1108 173h3v2h-3zM1111 172h2v2h-2zM1116 171h1v2h-1zM1117 170h3v2h-3zM1123 169h1v2h-1zM1124 168h3v2h-3zM1127 167h1v2h-1zM1131 166h2v2h-2zM1133 165h3v2h-3zM1139 164h1v2h-1zM1140 163h3v2h-3zM1146 161h3v2h-3zM1149 160h2v2h-2zM1154 159h2v2h-2zM1156 158h3v2h-3zM1162 156h4v2h-4zM1169 154h3v2h-3zM1172 153h2v2h-2zM1177 152h1v2h-1zM1178 151h4v2h-4zM1184 150h1v2h-1zM1185 149h3v2h-3zM1188 148h1v2h-1zM1192 147h3v2h-3zM1195 146h2v2h-2zM1200 145h1v2h-1zM1201 144h3v2h-3zM1207 142h4v2h-4zM1211 141h1v2h-1zM1215 140h2v2h-2zM1217 139h3v2h-3zM1223 138h1v2h-1zM1224 137h3v2h-3zM1230 135h3v2h-3zM1233 134h2v2h-2zM1238 133h2v2h-2zM1240 132h3v2h-3zM1246 130h3v2h-3z" fill="#0000ff"/>
<path d="M1107 116h3v2h-3zM1110 117h3v2h-3zM1113 118h3v2h-3zM1116 119h4v2h-4zM1120 120h3v2h-3zM1123 121h3v2h-3zM1126 122h3v2h-3zM1129 123h3v2h-3zM1132 124h4v2h-4zM1136 125h3v2h-3zM1139 126h3v2h-3zM1142 127h3v2h-3zM1145 128h4v2h-4zM1149 129h3v2h-3zM1152 130h3v2h-3zM1155 131h3v2h-3zM1158 132h4v2h-4zM1162 133h3v2h-3zM1165 134h3v2h-3zM1168 135h3v2h-3zM1171 136h3v2h-3zM1174 137h4v2h-4zM1178 138h3v2h-3zM1181 139h3v2h-3zM1184 140h3v2h-3zM1187 141h4v2h-4zM1191 142h3v2h-3zM1194 143h3v2h-3zM1197 144h3v2h-3zM1200 145h4v2h-4zM1204 146h3v2h-3zM1207 147h3v2h-3zM1210 148h3v2h-3zM1213 149h3v2h-3zM1216 150h4v2h-4zM1220 151h3v2h-3zM1223 152h3v2h-3zM1226 153h3v2h-3z" fill="#ff0000"/>
</g>
<text x="1146.4" y="121.9" fill="#0a4614" font-size="16" font-weight="normal" text-anchor="start" textLength="48.8" lengthAdjust="spacingAndGlyphs" xml:space="preserve" >109.48</text>
<text x="324.8" y="142.8" fill="#0a4614" font-size="16" font-weight="normal" text-anchor="start" textLength="26.4" lengthAdjust="spacingAndGlyphs" xml:space="preserve" >109</text>
<text x="1191.1" y="194.3" fill="#0a4614" font-size="16" font-weight="normal" text-anchor="start" textLength="44.6" lengthAdjust="spacingAndGlyphs" xml:space="preserve" >107.85</text>
<text x="937.6" y="252.6" fill="#0a4614" font-size="16" font-weight="normal" text-anchor="start" textLength="39.9" lengthAdjust="spacingAndGlyphs" xml:space="preserve" >106.5</text>
<text x="511.2" y="318.8" fill="#0a4614" font-size="16" font-weight="normal" text-anchor="start" textLength="26.6" lengthAdjust="spacingAndGlyphs" xml:space="preserve" >105</text>
<text x="613.7" y="342.8" fill="#0a4614" font-size="16" font-weight="normal" text-anchor="start" textLength="48.3" lengthAdjust="spacingAndGlyphs" xml:space="preserve" >104.45</text>
<g shape-rendering="crispEdges">
<line x1="15" x2="1248" y1="410.5" y2="410.5" stroke="#00007f" stroke-width="1"/>
<line x1="15" x2="1248" y1="456.5" y2="456.5" stroke="#00007f" stroke-width="1"/>
<path d="M15.2 458.6 L19.5 457.9 L29.0 451.9 L36.1 451.9 L42.0 453.8 L48.0 455.5 L57.4 449.1 L64.6 448.8 L69.3 447.9 L76.4 448.1 L83.5 449.8 L88.3 449.8 L96.6 444.8 L104.9 444.8 L114.4 446.7 L123.9 451.9 L133.8 460.7 L152.3 460.7 L154.7 461.9 L164.2 461.9 L173.7 446.7 L182.0 446.5 L185.5 445.5 L191.5 444.8 L202.1 433.0 L211.1 441.7 L221.1 442.0 L223.5 442.9 L231.8 442.9 L241.3 431.1 L250.7 427.0 L260.2 425.4 L268.5 431.8 L279.2 431.8 L289.4 440.8 L299.4 440.8 L308.4 435.3 L310.0 436.5 L318.3 439.4 L327.8 447.9 L337.3 440.1 L346.8 438.4 L356.3 432.5 L366.9 432.5 L375.9 425.8 L388.3 425.8 L394.9 424.6 L403.7 427.7 L413.7 425.8 L423.9 446.0 L433.3 453.1 L442.8 456.7 L453.5 449.6 L463.0 451.5 L472.5 453.1 L482.0 456.2 L486.7 457.9 L492.2 457.9 L501.7 439.4 L511.1 446.0 L521.1 443.1 L530.6 440.5 L540.1 437.7 L549.6 440.8 L559.1 437.7 L568.5 438.9 L578.0 446.7 L588.0 439.6 L597.5 442.0 L607.7 438.2 L616.0 434.8 L610.0 437.2 L617.1 434.6 L626.6 437.0 L636.1 437.2 L645.6 440.1 L655.1 435.8 L665.0 428.9 L677.6 428.9 L685.9 425.8 L695.4 422.8 L704.9 421.6 L714.8 418.0 L746.4 418.0 L752.3 415.2 L763.0 423.5 L772.5 429.9 L781.3 429.9 L791.5 437.2 L801.7 426.5 L814.0 426.5 L821.1 425.1 L830.6 425.1 L840.1 430.6 L849.6 437.7 L857.9 439.6 L869.7 439.6 L878.0 434.6 L888.7 437.0 L898.2 431.8 L908.9 424.6 L918.3 419.9 L910.0 424.2 L918.3 419.9 L927.8 419.9 L936.1 416.8 L945.6 417.1 L955.1 419.2 L963.4 423.0 L974.0 421.8 L984.0 424.2 L994.2 421.8 L1014.4 421.8 L1023.9 417.5 L1033.3 419.9 L1042.4 419.9 L1052.3 437.2 L1061.8 434.6 L1071.3 428.2 L1081.3 419.2 L1090.3 423.0 L1100.9 418.7 L1110.4 418.7 L1119.9 424.6 L1129.4 425.1 L1138.9 429.4 L1148.4 436.0 L1157.9 430.6 L1168.5 432.2 L1178.0 434.6 L1187.5 436.0" fill="none" stroke="#00007f" stroke-width="2" />
<line x1="15" x2="1248" y1="558.5" y2="558.5" stroke="#0a500a" stroke-width="1"/>
<rect x="18" y="559" width="1" height="12" fill="#0e3f84"/>
<rect x="28" y="559" width="1" height="10" fill="#0e3f84"/>
<rect x="37" y="559" width="1" height="8" fill="#0e3f84"/>
<rect x="47" y="559" width="1" height="7" fill="#0e3f84"/>
<rect x="57" y="559" width="1" height="6" fill="#0e3f84"/>
<rect x="66" y="559" width="1" height="2" fill="#0e3f84"/>
<rect x="86" y="557" width="1" height="1" fill="#0e3f84"/>
<rect x="95" y="555" width="1" height="3" fill="#0e3f84"/>
<rect x="105" y="552" width="1" height="6" fill="#0e3f84"/>
<rect x="115" y="553" width="1" height="5" fill="#0e3f84"/>
<rect x="124" y="554" width="1" height="4" fill="#0e3f84"/>
<rect x="134" y="559" width="1" height="1" fill="#0e3f84"/>
<rect x="144" y="559" width="1" height="4" fill="#0e3f84"/>
<rect x="153" y="559" width="1" height="6" fill="#0e3f84"/>
<rect x="163" y="559" width="1" height="5" fill="#0e3f84"/>
<rect x="173" y="559" width="1" height="2" fill="#0e3f84"/>
<rect x="182" y="557" width="1" height="1" fill="#0e3f84"/>
<rect x="192" y="555" width="1" height="3" fill="#0e3f84"/>
<rect x="202" y="550" width="1" height="8" fill="#0e3f84"/>
<rect x="211" y="550" width="1" height="8" fill="#0e3f84"/>
<rect x="221" y="550" width="1" height="8" fill="#0e3f84"/>
<rect x="231" y="551" width="1" height="7" fill="#0e3f84"/>
<rect x="240" y="547" width="1" height="11" fill="#0e3f84"/>
<rect x="250" y="544" width="1" height="14" fill="#0e3f84"/>
<rect x="260" y="542" width="1" height="16" fill="#0e3f84"/>
<rect x="269" y="543" width="1" height="15" fill="#0e3f84"/>
<rect x="279" y="544" width="1" height="14" fill="#0e3f84"/>
<rect x="289" y="549" width="1" height="9" fill="#0e3f84"/>
<rect x="298" y="551" width="1" height="7" fill="#0e3f84"/>
<rect x="308" y="552" width="1" height="6" fill="#0e3f84"/>
<rect x="317" y="553" width="1" height="5" fill="#0e3f84"/>
<rect x="327" y="559" width="1" height="1" fill="#0e3f84"/>
<rect x="337" y="559" width="1" height="1" fill="#0e3f84"/>
<rect x="356" y="556" width="1" height="2" fill="#0e3f84"/>
<rect x="366" y="555" width="1" height="3" fill="#0e3f84"/>
<rect x="375" y="552" width="1" height="6" fill="#0e3f84"/>
<rect x="385" y="550" width="1" height="8" fill="#0e3f84"/>
<rect x="395" y="548" width="1" height="10" fill="#0e3f84"/>
<rect x="404" y="549" width="1" height="9" fill="#0e3f84"/>
<rect x="414" y="549" width="1" height="9" fill="#0e3f84"/>
<rect x="433" y="559" width="1" height="7" fill="#0e3f84"/>
<rect x="443" y="559" width="1" height="17" fill="#0e3f84"/>
<rect x="453" y="559" width="1" height="19" fill="#0e3f84"/>
<rect x="462" y="559" width="1" height="19" fill="#0e3f84"/>
<rect x="472" y="559" width="1" height="20" fill="#0e3f84"/>
<rect x="482" y="559" width="1" height="21" fill="#0e3f84"/>
<rect x="491" y="559" width="1" height="23" fill="#0e3f84"/>
<rect x="501" y="559" width="1" height="14" fill="#0e3f84"/>
<rect x="511" y="559" width="1" height="12" fill="#0e3f84"/>
<rect x="520" y="559" width="1" height="9" fill="#0e3f84"/>
<rect x="530" y="559" width="1" height="5" fill="#0e3f84"/>
<rect x="549" y="557" width="1" height="1" fill="#0e3f84"/>
<rect x="559" y="554" width="1" height="4" fill="#0e3f84"/>
<rect x="569" y="553" width="1" height="5" fill="#0e3f84"/>
<rect x="578" y="557" width="1" height="1" fill="#0e3f84"/>
<rect x="588" y="556" width="1" height="2" fill="#0e3f84"/>
<rect x="598" y="557" width="1" height="1" fill="#0e3f84"/>
<rect x="607" y="555" width="1" height="3" fill="#0e3f84"/>
<rect x="617" y="552" width="1" height="6" fill="#0e3f84"/>
<rect x="627" y="551" width="1" height="7" fill="#0e3f84"/>
<rect x="636" y="551" width="1" height="7" fill="#0e3f84"/>
<rect x="646" y="552" width="1" height="6" fill="#0e3f84"/>
<rect x="656" y="551" width="1" height="7" fill="#0e3f84"/>
<rect x="665" y="547" width="1" height="11" fill="#0e3f84"/>
<rect x="675" y="544" width="1" height="14" fill="#0e3f84"/>
<rect x="685" y="543" width="1" height="15" fill="#0e3f84"/>
<rect x="694" y="540" width="1" height="18" fill="#0e3f84"/>
<rect x="704" y="537" width="1" height="21" fill="#0e3f84"/>
<rect x="714" y="536" width="1" height="22" fill="#0e3f84"/>
<rect x="723" y="537" width="1" height="21" fill="#0e3f84"/>
<rect x="733" y="536" width="1" height="22" fill="#0e3f84"/>
<rect x="743" y="539" width="1" height="19" fill="#0e3f84"/>
<rect x="752" y="539" width="1" height="19" fill="#0e3f84"/>
<rect x="762" y="543" width="1" height="15" fill="#0e3f84"/>
<rect x="772" y="549" width="1" height="9" fill="#0e3f84"/>
<rect x="781" y="553" width="1" height="5" fill="#0e3f84"/>
<rect x="791" y="559" width="1" height="1" fill="#0e3f84"/>
<rect x="801" y="559" width="1" height="1" fill="#0e3f84"/>
<rect x="810" y="559" width="1" height="1" fill="#0e3f84"/>
<rect x="830" y="557" width="1" height="1" fill="#0e3f84"/>
<rect x="839" y="559" width="1" height="1" fill="#0e3f84"/>
<rect x="849" y="559" width="1" height="5" fill="#0e3f84"/>
<rect x="859" y="559" width="1" height="9" fill="#0e3f84"/>
<rect x="868" y="559" width="1" height="11" fill="#0e3f84"/>
<rect x="878" y="559" width="1" height="10" fill="#0e3f84"/>
<rect x="887" y="559" width="1" height="10" fill="#0e3f84"/>
<rect x="897" y="559" width="1" height="7" fill="#0e3f84"/>
<rect x="907" y="559" width="1" height="3" fill="#0e3f84"/>
<rect x="916" y="556" width="1" height="2" fill="#0e3f84"/>
<rect x="926" y="553" width="1" height="5" fill="#0e3f84"/>
<rect x="936" y="549" width="1" height="9" fill="#0e3f84"/>
<rect x="945" y="548" width="1" height="10" fill="#0e3f84"/>
<rect x="955" y="548" width="1" height="10" fill="#0e3f84"/>
<rect x="965" y="550" width="1" height="8" fill="#0e3f84"/>
<rect x="974" y="551" width="1" height="7" fill="#0e3f84"/>
<rect x="984" y="553" width="1" height="5" fill="#0e3f84"/>
<rect x="994" y="554" width="1" height="4" fill="#0e3f84"/>
<rect x="1003" y="555" width="1" height="3" fill="#0e3f84"/>
<rect x="1013" y="556" width="1" height="2" fill="#0e3f84"/>
<rect x="1023" y="555" width="1" height="3" fill="#0e3f84"/>
<rect x="1032" y="555" width="1" height="3" fill="#0e3f84"/>
<rect x="1042" y="556" width="1" height="2" fill="#0e3f84"/>
<rect x="1052" y="559" width="1" height="3" fill="#0e3f84"/>
<rect x="1061" y="559" width="1" height="6" fill="#0e3f84"/>
<rect x="1071" y="559" width="1" height="5" fill="#0e3f84"/>
<rect x="1081" y="559" width="1" height="2" fill="#0e3f84"/>
<rect x="1090" y="559" width="1" height="1" fill="#0e3f84"/>
<rect x="1100" y="557" width="1" height="1" fill="#0e3f84"/>
<rect x="1110" y="556" width="1" height="2" fill="#0e3f84"/>
<rect x="1119" y="556" width="1" height="2" fill="#0e3f84"/>
<rect x="1139" y="559" width="1" height="1" fill="#0e3f84"/>
<rect x="1148" y="559" width="1" height="5" fill="#0e3f84"/>
<rect x="1158" y="559" width="1" height="5" fill="#0e3f84"/>
<rect x="1168" y="559" width="1" height="7" fill="#0e3f84"/>
<rect x="1177" y="559" width="1" height="7" fill="#0e3f84"/>
<rect x="1187" y="559" width="1" height="8" fill="#0e3f84"/>
<path d="M15.2 608.5 L29.0 609.7 L38.5 610.8 L57.4 610.8 L66.9 607.3 L85.9 604.2 L95.4 600.6 L104.9 597.8 L114.4 596.4 L123.9 596.6 L133.3 601.8 L142.8 604.2 L153.5 608.9 L164.2 608.9 L173.7 606.6 L183.1 604.2 L192.6 600.6 L202.4 593.1 L211.6 591.2 L221.3 589.5 L231.3 588.8 L240.6 582.9 L250.5 576.9 L260.5 570.3 L269.5 567.0 L279.4 565.1 L289.4 567.9 L298.4 567.9 L308.4 567.9 L318.3 568.1 L318.5 568.1 L327.8 573.4 L337.5 573.8 L347.2 573.8 L356.7 570.5 L366.5 569.3 L375.7 563.9 L385.4 560.3 L395.4 556.3 L404.6 554.4 L414.4 552.5 L424.1 558.4 L433.8 569.8 L443.5 582.1 L453.5 588.8 L462.5 594.7 L472.5 599.5 L482.4 606.6 L491.7 613.0 L501.7 608.5 L511.6 608.9 L520.6 608.9 L530.6 605.4 L540.1 601.8 L549.8 599.5 L559.5 595.4 L569.5 593.5 L578.5 596.6 L588.5 595.9 L598.4 595.9 L607.4 594.7 L617.4 589.3 L617.6 589.3 L627.3 585.9 L636.6 584.0 L646.5 584.0 L656.5 582.1 L665.5 576.2 L675.5 571.0 L685.4 565.1 L694.7 556.8 L704.6 548.5 L714.4 541.8 L723.9 536.1 L733.6 531.9 L743.5 529.0 L752.6 525.2 L762.5 525.2 L772.5 528.3 L781.7 531.4 L791.7 536.6 L801.7 536.6 L810.9 536.6 L820.6 536.6 L830.6 536.6 L839.8 537.8 L849.6 542.5 L859.5 548.5 L868.5 553.7 L878.5 554.4 L888.5 557.5 L897.7 556.8 L907.7 553.9 L917.6 547.3 L917.6 546.1 L926.6 543.0 L936.6 536.6 L945.6 533.0 L955.5 530.7 L965.5 530.7 L974.5 530.0 L984.5 530.0 L994.4 530.0 L1003.7 530.0 L1013.7 530.0 L1023.4 529.0 L1032.6 529.0 L1042.6 529.0 L1052.6 535.4 L1061.6 539.7 L1071.5 539.7 L1081.5 537.1 L1090.7 536.1 L1100.7 533.5 L1110.7 531.9 L1119.7 532.3 L1129.6 533.0 L1139.6 534.7 L1148.6 540.6 L1158.6 542.5 L1168.5 544.4 L1177.6 546.6 L1187.5 548.9" fill="none" stroke="#003c00" stroke-width="2" />
<path d="M15.2 597.1 L29.0 600.6 L38.5 603.0 L48.0 604.9 L57.4 605.9 L66.9 606.1 L76.4 605.4 L85.9 604.9 L95.4 604.2 L104.9 603.5 L114.4 602.3 L123.9 601.4 L133.3 601.8 L142.8 602.5 L153.5 603.5 L164.2 604.7 L173.7 604.9 L183.1 604.7 L192.6 603.5 L202.4 602.5 L211.6 599.5 L221.3 597.8 L231.3 596.4 L240.6 593.5 L250.5 589.5 L260.5 585.2 L269.5 582.1 L279.4 578.6 L289.4 576.5 L298.4 575.3 L308.4 573.4 L318.3 571.7 L318.5 572.7 L327.8 572.7 L337.5 573.4 L347.2 573.4 L356.7 572.2 L366.5 571.5 L375.7 569.8 L385.4 568.1 L395.4 566.3 L404.6 563.4 L414.4 561.5 L424.1 561.0 L433.8 562.7 L443.5 566.7 L453.5 570.5 L462.5 575.3 L472.5 579.3 L482.4 584.5 L491.7 591.2 L501.7 594.2 L511.6 597.1 L520.6 599.5 L530.6 600.6 L540.1 600.6 L549.8 600.2 L559.5 598.7 L569.5 597.8 L578.5 597.6 L588.5 597.1 L598.4 596.6 L607.4 596.4 L617.4 595.4 L617.6 595.4 L627.3 593.1 L636.6 591.2 L646.5 590.4 L656.5 588.8 L665.5 585.9 L675.5 582.9 L685.4 580.0 L694.7 575.3 L704.6 569.8 L714.4 564.4 L723.9 558.0 L733.6 552.5 L743.5 546.8 L752.6 543.0 L762.5 539.4 L772.5 537.1 L781.7 536.6 L791.7 536.1 L801.7 536.6 L810.9 536.6 L820.6 536.6 L830.6 536.6 L839.8 537.1 L849.6 538.3 L859.5 540.2 L868.5 543.2 L878.5 545.6 L888.5 547.8 L897.7 549.6 L907.7 550.1 L917.6 548.9 L917.6 549.6 L926.6 548.5 L936.6 546.1 L945.6 543.0 L955.5 540.9 L965.5 539.0 L974.5 537.1 L984.5 535.9 L994.4 534.2 L1003.7 533.8 L1013.7 533.0 L1023.4 531.9 L1032.6 531.1 L1042.6 530.7 L1052.6 531.9 L1061.6 533.5 L1071.5 534.9 L1081.5 535.4 L1090.7 535.4 L1100.7 534.7 L1110.7 534.2 L1119.7 533.8 L1129.6 533.8 L1139.6 534.2 L1148.6 535.4 L1158.6 536.6 L1168.5 538.5 L1177.6 540.6 L1187.5 542.1" fill="none" stroke="#ff0000" stroke-width="2" />
<line x1="15" x2="1248" y1="658.5" y2="658.5" stroke="#800000" stroke-width="1"/>
<line x1="15" x2="1248" y1="702.5" y2="702.5" stroke="#800000" stroke-width="1"/>
<path d="M15.2 710.4 L18.5 712.6 L28.3 706.6 L37.8 703.8 L47.5 703.8 L57.4 703.1 L66.5 701.9 L76.4 697.1 L86.4 696.7 L95.4 694.3 L105.4 693.1 L115.3 692.4 L124.3 697.9 L134.3 704.3 L144.3 708.5 L153.5 708.5 L163.5 705.4 L173.2 697.9 L182.7 688.4 L192.4 679.4 L202.4 670.1 L211.6 669.9 L221.3 668.9 L231.3 677.2 L240.6 669.4 L250.5 659.4 L260.5 648.5 L269.5 651.6 L279.4 655.9 L289.4 667.0 L298.4 675.3 L308.4 682.4 L318.3 688.4 L318.5 688.4 L327.8 697.1 L337.5 701.4 L347.2 700.7 L356.7 686.7 L366.5 681.3 L375.7 670.6 L385.4 664.6 L395.4 654.7 L404.6 654.7 L414.4 654.7 L424.1 676.5 L433.8 696.0 L443.5 713.7 L453.5 709.2 L462.5 705.0 L472.5 702.6 L482.4 706.2 L491.7 709.7 L501.7 703.3 L511.6 701.4 L520.6 696.7 L530.6 697.9 L540.1 693.8 L549.8 693.6 L559.5 685.5 L569.5 678.4 L578.5 680.8 L588.5 680.5 L598.4 684.1 L607.4 672.2 L617.4 667.7 L617.6 668.2 L627.3 663.5 L636.6 659.9 L646.5 665.1 L656.5 662.3 L665.5 659.2 L675.5 651.6 L685.4 649.2 L694.7 647.3 L704.6 644.0 L714.4 644.5 L723.9 646.9 L733.6 647.6 L743.5 647.6 L752.6 648.0 L762.5 650.4 L772.5 656.3 L781.7 665.4 L791.7 677.0 L801.7 677.7 L810.9 677.7 L820.6 671.8 L830.6 668.9 L839.8 671.3 L849.6 682.4 L859.5 695.5 L868.5 703.1 L878.5 696.2 L888.5 694.3 L897.7 688.4 L907.7 678.9 L917.6 663.9 L917.6 663.5 L926.6 654.0 L936.6 649.2 L945.6 648.0 L955.5 648.5 L965.5 652.8 L974.5 654.4 L984.5 655.9 L994.4 654.0 L1003.7 653.5 L1013.7 652.1 L1023.4 651.6 L1032.6 650.9 L1042.6 654.7 L1052.6 675.3 L1061.6 693.1 L1071.5 697.9 L1081.5 677.7 L1090.7 664.6 L1100.7 654.7 L1110.7 655.2 L1119.7 656.3 L1129.6 659.9 L1139.6 668.2 L1148.6 678.4 L1158.6 682.4 L1168.5 683.6 L1177.6 683.1 L1187.5 685.3" fill="none" stroke="#800000" stroke-width="2" />
<path d="M15.2 705.4 L18.5 706.9 L28.3 709.0 L37.8 707.3 L47.5 705.0 L57.4 703.8 L66.5 703.1 L76.4 700.7 L86.4 698.6 L95.4 696.2 L105.4 694.3 L115.3 693.6 L124.3 694.3 L134.3 697.9 L144.3 702.6 L153.5 706.2 L163.5 706.9 L173.2 704.3 L182.7 697.1 L192.4 688.4 L202.4 679.6 L211.6 673.4 L221.3 669.9 L231.3 671.8 L240.6 671.8 L250.5 668.2 L260.5 659.9 L269.5 653.5 L279.4 652.1 L289.4 658.2 L298.4 665.8 L308.4 675.3 L318.3 682.4 L318.5 683.1 L327.8 690.0 L337.5 696.0 L347.2 699.5 L356.7 696.2 L366.5 689.6 L375.7 679.6 L385.4 672.2 L395.4 663.5 L404.6 658.0 L414.4 655.9 L424.1 662.3 L433.8 675.8 L443.5 695.5 L453.5 706.6 L462.5 709.0 L472.5 705.4 L482.4 704.5 L491.7 706.2 L501.7 706.2 L511.6 705.0 L520.6 700.2 L530.6 698.6 L540.1 696.2 L549.8 695.0 L559.5 691.2 L569.5 686.0 L578.5 681.7 L588.5 679.6 L598.4 681.7 L607.4 678.9 L617.4 674.6 L617.6 675.3 L627.3 669.4 L636.6 663.9 L646.5 663.0 L656.5 662.8 L665.5 661.8 L675.5 658.0 L685.4 653.5 L694.7 649.7 L704.6 646.4 L714.4 645.2 L723.9 645.2 L733.6 646.1 L743.5 646.9 L752.6 647.3 L762.5 648.5 L772.5 651.1 L781.7 657.5 L791.7 666.3 L801.7 673.0 L810.9 677.2 L820.6 675.8 L830.6 672.5 L839.8 670.6 L849.6 674.1 L859.5 683.1 L868.5 693.6 L878.5 697.9 L888.5 697.9 L897.7 693.1 L907.7 687.2 L917.6 677.2 L917.6 674.1 L926.6 664.6 L936.6 655.9 L945.6 650.4 L955.5 648.5 L965.5 649.7 L974.5 652.1 L984.5 654.7 L994.4 654.7 L1003.7 654.4 L1013.7 653.3 L1023.4 652.3 L1032.6 651.6 L1042.6 652.3 L1052.6 659.9 L1061.6 674.1 L1071.5 689.1 L1081.5 689.1 L1090.7 680.1 L1100.7 665.8 L1110.7 658.2 L1119.7 655.6 L1129.6 657.1 L1139.6 661.6 L1148.6 668.9 L1158.6 676.5 L1168.5 681.7 L1177.6 683.1 L1187.5 684.1" fill="none" stroke="#0000ff" stroke-width="2" stroke-dasharray="5 3"/>
</g>
<g shape-rendering="crispEdges">
<rect x="14.5" y="28.5" width="1234" height="697" fill="none" stroke="#505050" stroke-width="1"/>
<line x1="2" x2="1305" y1="350.5" y2="350.5" stroke="#505050" stroke-width="1"/>
<line x1="2" x2="1305" y1="501.5" y2="501.5" stroke="#505050" stroke-width="1"/>
<line x1="2" x2="1305" y1="621.5" y2="621.5" stroke="#505050" stroke-width="1"/>
</g>
<text x="10.3" y="19.8" fill="#000" font-size="16" font-weight="bold" text-anchor="start" textLength="80.5" lengthAdjust="spacingAndGlyphs" xml:space="preserve" >Daily JPY=</text>
<text x="1148.0" y="21.7" fill="#c4c6cf" font-size="11" font-weight="normal" text-anchor="start" textLength="153.0" lengthAdjust="spacingAndGlyphs" xml:space="preserve" >04/06/2019 - 28/11/2019 (GMT)</text>
<rect x="20.5" y="30.5" width="236.2" height="14" fill="#fff"/>
<text x="21.5" y="41.5" fill="#ff0000" font-size="11" font-weight="normal" text-anchor="start" textLength="22.5" lengthAdjust="spacingAndGlyphs" xml:space="preserve" >SMA,</text>
<text x="49.8" y="41.5" fill="#ff0000" font-size="11" font-weight="normal" text-anchor="start" textLength="28.2" lengthAdjust="spacingAndGlyphs" xml:space="preserve" >JPY=,</text>
<text x="81.6" y="41.5" fill="#ff0000" font-size="11" font-weight="normal" text-anchor="start" textLength="45.4" lengthAdjust="spacingAndGlyphs" xml:space="preserve" >Bid(Last),</text>
<text x="134.9" y="41.5" fill="#ff0000" font-size="11" font-weight="normal" text-anchor="start" textLength="14.3" lengthAdjust="spacingAndGlyphs" xml:space="preserve" >55,</text>
<text x="154.8" y="41.5" fill="#ff0000" font-size="11" font-weight="normal" text-anchor="start" textLength="58.5" lengthAdjust="spacingAndGlyphs" xml:space="preserve" >20/11/2019,</text>
<text x="217.9" y="41.5" fill="#ff0000" font-size="11" font-weight="normal" text-anchor="start" textLength="35.8" lengthAdjust="spacingAndGlyphs" xml:space="preserve" >108.17,</text>
<rect x="257.0" y="30.5" width="242.2" height="14" fill="#fff"/>
<text x="258.0" y="41.5" fill="#000" font-size="11" font-weight="normal" text-anchor="start" textLength="22.5" lengthAdjust="spacingAndGlyphs" xml:space="preserve" >SMA,</text>
<text x="286.3" y="41.5" fill="#000" font-size="11" font-weight="normal" text-anchor="start" textLength="28.2" lengthAdjust="spacingAndGlyphs" xml:space="preserve" >JPY=,</text>
<text x="318.1" y="41.5" fill="#000" font-size="11" font-weight="normal" text-anchor="start" textLength="45.4" lengthAdjust="spacingAndGlyphs" xml:space="preserve" >Bid(Last),</text>
<text x="371.7" y="41.5" fill="#000" font-size="11" font-weight="normal" text-anchor="start" textLength="18.5" lengthAdjust="spacingAndGlyphs" xml:space="preserve" >144,</text>
<text x="397.3" y="41.5" fill="#000" font-size="11" font-weight="normal" text-anchor="start" textLength="58.5" lengthAdjust="spacingAndGlyphs" xml:space="preserve" >20/11/2019,</text>
<text x="460.4" y="41.5" fill="#000" font-size="11" font-weight="normal" text-anchor="start" textLength="35.8" lengthAdjust="spacingAndGlyphs" xml:space="preserve" >108.07,</text>
<rect x="499.0" y="30.5" width="308.5" height="14" fill="#fff"/>
<text x="500.0" y="41.5" fill="#000" font-size="11" font-weight="normal" text-anchor="start" textLength="24.4" lengthAdjust="spacingAndGlyphs" xml:space="preserve" >Cndl,</text>
<text x="527.8" y="41.5" fill="#000" font-size="11" font-weight="normal" text-anchor="start" textLength="28.5" lengthAdjust="spacingAndGlyphs" xml:space="preserve" >JPY=,</text>
<text x="559.6" y="41.5" fill="#000" font-size="11" font-weight="normal" text-anchor="start" textLength="17.0" lengthAdjust="spacingAndGlyphs" xml:space="preserve" >Bid,</text>
<text x="582.5" y="41.5" fill="#000" font-size="11" font-weight="normal" text-anchor="start" textLength="58.7" lengthAdjust="spacingAndGlyphs" xml:space="preserve" >20/11/2019,</text>
<text x="646.2" y="41.5" fill="#000" font-size="11" font-weight="normal" text-anchor="start" textLength="35.4" lengthAdjust="spacingAndGlyphs" xml:space="preserve" >108.53,</text>
<text x="687.0" y="41.5" fill="#000" font-size="11" font-weight="normal" text-anchor="start" textLength="35.4" lengthAdjust="spacingAndGlyphs" xml:space="preserve" >108.57,</text>
<text x="728.4" y="41.5" fill="#000" font-size="11" font-weight="normal" text-anchor="start" textLength="35.0" lengthAdjust="spacingAndGlyphs" xml:space="preserve" >108.34,</text>
<text x="769.1" y="41.5" fill="#000" font-size="11" font-weight="normal" text-anchor="start" textLength="35.4" lengthAdjust="spacingAndGlyphs" xml:space="preserve" >108.44,</text>
<rect x="808.9" y="30.5" width="84.2" height="14" fill="#fff"/>
<text x="809.9" y="41.5" fill="#ff0000" font-size="11" font-weight="normal" text-anchor="start" textLength="26.5" lengthAdjust="spacingAndGlyphs" xml:space="preserve" >-0.09,</text>
<text x="841.7" y="41.5" fill="#ff0000" font-size="11" font-weight="normal" text-anchor="start" textLength="48.4" lengthAdjust="spacingAndGlyphs" xml:space="preserve" >(-0.08%),</text>
<rect x="893.1" y="30.5" width="236.2" height="14" fill="#fff"/>
<text x="894.1" y="41.5" fill="#0e3f84" font-size="11" font-weight="normal" text-anchor="start" textLength="22.5" lengthAdjust="spacingAndGlyphs" xml:space="preserve" >SMA,</text>
<text x="922.4" y="41.5" fill="#0e3f84" font-size="11" font-weight="normal" text-anchor="start" textLength="28.2" lengthAdjust="spacingAndGlyphs" xml:space="preserve" >JPY=,</text>
<text x="954.2" y="41.5" fill="#0e3f84" font-size="11" font-weight="normal" text-anchor="start" textLength="45.4" lengthAdjust="spacingAndGlyphs" xml:space="preserve" >Bid(Last),</text>
<text x="1007.5" y="41.5" fill="#0e3f84" font-size="11" font-weight="normal" text-anchor="start" textLength="14.3" lengthAdjust="spacingAndGlyphs" xml:space="preserve" >89,</text>
<text x="1027.4" y="41.5" fill="#0e3f84" font-size="11" font-weight="normal" text-anchor="start" textLength="58.5" lengthAdjust="spacingAndGlyphs" xml:space="preserve" >20/11/2019,</text>
<text x="1090.5" y="41.5" fill="#0e3f84" font-size="11" font-weight="normal" text-anchor="start" textLength="35.8" lengthAdjust="spacingAndGlyphs" xml:space="preserve" >107.64,</text>
<rect x="20.5" y="43.3" width="233.2" height="14" fill="#fff"/>
<text x="21.5" y="54.3" fill="#008000" font-size="11" font-weight="normal" text-anchor="start" textLength="22.5" lengthAdjust="spacingAndGlyphs" xml:space="preserve" >SMA,</text>
<text x="49.8" y="54.3" fill="#008000" font-size="11" font-weight="normal" text-anchor="start" textLength="28.2" lengthAdjust="spacingAndGlyphs" xml:space="preserve" >JPY=,</text>
<text x="81.6" y="54.3" fill="#008000" font-size="11" font-weight="normal" text-anchor="start" textLength="45.4" lengthAdjust="spacingAndGlyphs" xml:space="preserve" >Bid(Last),</text>
<text x="134.9" y="54.3" fill="#008000" font-size="11" font-weight="normal" text-anchor="start" textLength="14.3" lengthAdjust="spacingAndGlyphs" xml:space="preserve" >21,</text>
<text x="154.8" y="54.3" fill="#008000" font-size="11" font-weight="normal" text-anchor="start" textLength="58.5" lengthAdjust="spacingAndGlyphs" xml:space="preserve" >20/11/2019,</text>
<text x="217.9" y="54.3" fill="#008000" font-size="11" font-weight="normal" text-anchor="start" textLength="32.8" lengthAdjust="spacingAndGlyphs" xml:space="preserve" >108.74</text>
<rect x="20.7" y="353.8" width="318.0" height="14" fill="#fff"/>
<text x="21.7" y="364.8" fill="#00007f" font-size="11" font-weight="normal" text-anchor="start" textLength="19.5" lengthAdjust="spacingAndGlyphs" xml:space="preserve" >RSI,</text>
<text x="45.9" y="364.8" fill="#00007f" font-size="11" font-weight="normal" text-anchor="start" textLength="28.3" lengthAdjust="spacingAndGlyphs" xml:space="preserve" >JPY=,</text>
<text x="77.1" y="364.8" fill="#00007f" font-size="11" font-weight="normal" text-anchor="start" textLength="45.5" lengthAdjust="spacingAndGlyphs" xml:space="preserve" >Bid(Last),</text>
<text x="131.7" y="364.8" fill="#00007f" font-size="11" font-weight="normal" text-anchor="start" textLength="13.1" lengthAdjust="spacingAndGlyphs" xml:space="preserve" >14,</text>
<text x="149.2" y="364.8" fill="#00007f" font-size="11" font-weight="normal" text-anchor="start" textLength="30.3" lengthAdjust="spacingAndGlyphs" xml:space="preserve" >Wilder</text>
<text x="183.0" y="364.8" fill="#00007f" font-size="11" font-weight="normal" text-anchor="start" textLength="51.2" lengthAdjust="spacingAndGlyphs" xml:space="preserve" >Smoothing,</text>
<text x="240.2" y="364.8" fill="#00007f" font-size="11" font-weight="normal" text-anchor="start" textLength="57.8" lengthAdjust="spacingAndGlyphs" xml:space="preserve" >20/11/2019,</text>
<text x="303.4" y="364.8" fill="#00007f" font-size="11" font-weight="normal" text-anchor="start" textLength="32.3" lengthAdjust="spacingAndGlyphs" xml:space="preserve" >47.921</text>
<rect x="20.6" y="504.5" width="334.8" height="14" fill="#fff"/>
<text x="21.6" y="515.5" fill="#0e3f84" font-size="11" font-weight="normal" text-anchor="start" textLength="37.4" lengthAdjust="spacingAndGlyphs" xml:space="preserve" >MACDF,</text>
<text x="63.7" y="515.5" fill="#0e3f84" font-size="11" font-weight="normal" text-anchor="start" textLength="28.9" lengthAdjust="spacingAndGlyphs" xml:space="preserve" >JPY=,</text>
<text x="95.9" y="515.5" fill="#0e3f84" font-size="11" font-weight="normal" text-anchor="start" textLength="44.9" lengthAdjust="spacingAndGlyphs" xml:space="preserve" >Bid(Last),</text>
<text x="149.1" y="515.5" fill="#0e3f84" font-size="11" font-weight="normal" text-anchor="start" textLength="12.9" lengthAdjust="spacingAndGlyphs" xml:space="preserve" >12,</text>
<text x="167.0" y="515.5" fill="#0e3f84" font-size="11" font-weight="normal" text-anchor="start" textLength="12.4" lengthAdjust="spacingAndGlyphs" xml:space="preserve" >26,</text>
<text x="185.5" y="515.5" fill="#0e3f84" font-size="11" font-weight="normal" text-anchor="start" textLength="8.5" lengthAdjust="spacingAndGlyphs" xml:space="preserve" >9,</text>
<text x="198.7" y="515.5" fill="#0e3f84" font-size="11" font-weight="normal" text-anchor="start" textLength="56.4" lengthAdjust="spacingAndGlyphs" xml:space="preserve" >Exponential,</text>
<text x="262.8" y="515.5" fill="#0e3f84" font-size="11" font-weight="normal" text-anchor="start" textLength="57.6" lengthAdjust="spacingAndGlyphs" xml:space="preserve" >20/11/2019,</text>
<text x="326.8" y="515.5" fill="#0e3f84" font-size="11" font-weight="normal" text-anchor="start" textLength="25.6" lengthAdjust="spacingAndGlyphs" xml:space="preserve" >-0.09,</text>
<rect x="357.4" y="504.5" width="327.7" height="14" fill="#fff"/>
<text x="358.4" y="515.5" fill="#003c00" font-size="11" font-weight="normal" text-anchor="start" textLength="28.3" lengthAdjust="spacingAndGlyphs" xml:space="preserve" >MACD,</text>
<text x="395.1" y="515.5" fill="#003c00" font-size="11" font-weight="normal" text-anchor="start" textLength="28.0" lengthAdjust="spacingAndGlyphs" xml:space="preserve" >JPY=,</text>
<text x="427.0" y="515.5" fill="#003c00" font-size="11" font-weight="normal" text-anchor="start" textLength="43.9" lengthAdjust="spacingAndGlyphs" xml:space="preserve" >Bid(Last),</text>
<text x="480.7" y="515.5" fill="#003c00" font-size="11" font-weight="normal" text-anchor="start" textLength="11.9" lengthAdjust="spacingAndGlyphs" xml:space="preserve" >12,</text>
<text x="498.6" y="515.5" fill="#003c00" font-size="11" font-weight="normal" text-anchor="start" textLength="11.9" lengthAdjust="spacingAndGlyphs" xml:space="preserve" >26,</text>
<text x="517.4" y="515.5" fill="#003c00" font-size="11" font-weight="normal" text-anchor="start" textLength="8.1" lengthAdjust="spacingAndGlyphs" xml:space="preserve" >9,</text>
<text x="529.9" y="515.5" fill="#003c00" font-size="11" font-weight="normal" text-anchor="start" textLength="56.7" lengthAdjust="spacingAndGlyphs" xml:space="preserve" >Exponential,</text>
<text x="594.7" y="515.5" fill="#003c00" font-size="11" font-weight="normal" text-anchor="start" textLength="57.6" lengthAdjust="spacingAndGlyphs" xml:space="preserve" >20/11/2019,</text>
<text x="657.7" y="515.5" fill="#003c00" font-size="11" font-weight="normal" text-anchor="start" textLength="24.4" lengthAdjust="spacingAndGlyphs" xml:space="preserve" >0.11,</text>
<rect x="684.7" y="504.5" width="25.2" height="14" fill="#fff"/>
<text x="685.7" y="515.5" fill="#ff0000" font-size="11" font-weight="normal" text-anchor="start" textLength="21.2" lengthAdjust="spacingAndGlyphs" xml:space="preserve" >0.20</text>
<rect x="20.7" y="624.5" width="282.4" height="14" fill="#fff"/>
<text x="21.7" y="635.5" fill="#800000" font-size="11" font-weight="normal" text-anchor="start" textLength="36.4" lengthAdjust="spacingAndGlyphs" xml:space="preserve" >StochS,</text>
<text x="62.0" y="635.5" fill="#800000" font-size="11" font-weight="normal" text-anchor="start" textLength="27.3" lengthAdjust="spacingAndGlyphs" xml:space="preserve" >JPY=,</text>
<text x="93.2" y="635.5" fill="#800000" font-size="11" font-weight="normal" text-anchor="start" textLength="17.0" lengthAdjust="spacingAndGlyphs" xml:space="preserve" >Bid,</text>
<text x="118.7" y="635.5" fill="#800000" font-size="11" font-weight="normal" text-anchor="start" textLength="13.0" lengthAdjust="spacingAndGlyphs" xml:space="preserve" >14,</text>
<text x="137.0" y="635.5" fill="#800000" font-size="11" font-weight="normal" text-anchor="start" textLength="7.8" lengthAdjust="spacingAndGlyphs" xml:space="preserve" >3,</text>
<text x="149.7" y="635.5" fill="#800000" font-size="11" font-weight="normal" text-anchor="start" textLength="33.3" lengthAdjust="spacingAndGlyphs" xml:space="preserve" >Simple,</text>
<text x="187.4" y="635.5" fill="#800000" font-size="11" font-weight="normal" text-anchor="start" textLength="7.8" lengthAdjust="spacingAndGlyphs" xml:space="preserve" >3,</text>
<text x="201.2" y="635.5" fill="#800000" font-size="11" font-weight="normal" text-anchor="start" textLength="57.8" lengthAdjust="spacingAndGlyphs" xml:space="preserve" >20/11/2019,</text>
<text x="264.4" y="635.5" fill="#800000" font-size="11" font-weight="normal" text-anchor="start" textLength="35.7" lengthAdjust="spacingAndGlyphs" xml:space="preserve" >41.822,</text>
<rect x="304.3" y="624.5" width="36.0" height="14" fill="#fff"/>
<text x="305.3" y="635.5" fill="#0000ff" font-size="11" font-weight="normal" text-anchor="start" textLength="32.0" lengthAdjust="spacingAndGlyphs" xml:space="preserve" >44.859</text>
<text x="1254.4" y="55.7" fill="#000" font-size="11" font-weight="bold" text-anchor="start" textLength="27.4" lengthAdjust="spacingAndGlyphs" xml:space="preserve" >Price</text>
<text x="1254.4" y="70.5" fill="#000" font-size="11" font-weight="bold" text-anchor="start" textLength="27.4" lengthAdjust="spacingAndGlyphs" xml:space="preserve" >/USD</text>
<g shape-rendering="crispEdges">
<rect x="1249" y="93" width="5" height="1" fill="#000"/>
<rect x="1249" y="115" width="5" height="1" fill="#000"/>
<rect x="1249" y="137" width="5" height="1" fill="#000"/>
<rect x="1249" y="225" width="5" height="1" fill="#000"/>
<rect x="1249" y="247" width="5" height="1" fill="#000"/>
<rect x="1249" y="269" width="5" height="1" fill="#000"/>
<rect x="1249" y="291" width="5" height="1" fill="#000"/>
<rect x="1249" y="313" width="5" height="1" fill="#000"/>
<rect x="1249" y="335" width="5" height="1" fill="#000"/>
<rect x="1249" y="422" width="5" height="1" fill="#000"/>
<rect x="1249" y="445" width="5" height="1" fill="#000"/>
<rect x="1249" y="468" width="5" height="1" fill="#000"/>
<rect x="1249" y="491" width="5" height="1" fill="#000"/>
<rect x="1249" y="558" width="5" height="1" fill="#000"/>
<rect x="1249" y="591" width="5" height="1" fill="#000"/>
<rect x="1249" y="717" width="5" height="1" fill="#000"/>
</g>
<text x="1256.8" y="97.5" fill="#000" font-size="11" font-weight="bold" text-anchor="start" textLength="20.3" lengthAdjust="spacingAndGlyphs" xml:space="preserve" >110</text>
<text x="1256.8" y="119.5" fill="#000" font-size="11" font-weight="normal" text-anchor="start" xml:space="preserve" >109.5</text>
<text x="1256.8" y="141.5" fill="#000" font-size="11" font-weight="normal" text-anchor="start" textLength="17.2" lengthAdjust="spacingAndGlyphs" xml:space="preserve" >109</text>
<text x="1256.8" y="229.5" fill="#000" font-size="11" font-weight="normal" text-anchor="start" textLength="17.2" lengthAdjust="spacingAndGlyphs" xml:space="preserve" >107</text>
<text x="1256.8" y="251.5" fill="#000" font-size="11" font-weight="normal" text-anchor="start" xml:space="preserve" >106.5</text>
<text x="1256.8" y="273.5" fill="#000" font-size="11" font-weight="normal" text-anchor="start" textLength="17.2" lengthAdjust="spacingAndGlyphs" xml:space="preserve" >106</text>
<text x="1256.8" y="295.5" fill="#000" font-size="11" font-weight="normal" text-anchor="start" xml:space="preserve" >105.5</text>
<text x="1256.8" y="317.5" fill="#000" font-size="11" font-weight="bold" text-anchor="start" textLength="20.3" lengthAdjust="spacingAndGlyphs" xml:space="preserve" >105</text>
<text x="1256.9" y="332.8" fill="#000" font-size="11" font-weight="normal" text-anchor="start" xml:space="preserve" >104.5</text>
<rect x="1249" y="142" width="55" height="13" fill="#0a800a" shape-rendering="crispEdges"/>
<text x="1250.0" y="152.6" fill="#fff" font-size="11" font-weight="normal" text-anchor="start" xml:space="preserve" >108.74</text>
<rect x="1249" y="156" width="55" height="13" fill="#000" shape-rendering="crispEdges"/>
<text x="1250.0" y="166.6" fill="#fff" font-size="11" font-weight="bold" text-anchor="start" textLength="36.8" lengthAdjust="spacingAndGlyphs" xml:space="preserve" >108.44</text>
<rect x="1249" y="169" width="55" height="13" fill="#ff0000" shape-rendering="crispEdges"/>
<text x="1250.0" y="179.6" fill="#200000" font-size="11" font-weight="normal" text-anchor="start" xml:space="preserve" >108.17</text>
<rect x="1249" y="182" width="55" height="13" fill="#000" shape-rendering="crispEdges"/>
<text x="1250.0" y="192.6" fill="#fff" font-size="11" font-weight="normal" text-anchor="start" xml:space="preserve" >108.07</text>
<rect x="1249" y="195" width="55" height="13" fill="#0a3c78" shape-rendering="crispEdges"/>
<text x="1250.0" y="205.6" fill="#fff" font-size="11" font-weight="normal" text-anchor="start" xml:space="preserve" >107.64</text>
<rect x="1255.5" y="337.5" width="28" height="12" fill="#fff" stroke="#000" stroke-width="1" shape-rendering="crispEdges"/>
<text x="1257.0" y="347.5" fill="#000" font-size="11" font-weight="bold" text-anchor="start" textLength="25.6" lengthAdjust="spacingAndGlyphs" xml:space="preserve" >Auto</text>
<text x="1254.1" y="380.0" fill="#c8c8c8" font-size="11" font-weight="bold" text-anchor="start" textLength="30.3" lengthAdjust="spacingAndGlyphs" xml:space="preserve" >Value</text>
<text x="1254.4" y="395.2" fill="#c8c8c8" font-size="11" font-weight="bold" text-anchor="start" textLength="27.2" lengthAdjust="spacingAndGlyphs" xml:space="preserve" >/USD</text>
<text x="1255.6" y="427.0" fill="#000" font-size="11" font-weight="normal" text-anchor="start" xml:space="preserve" >60</text>
<text x="1255.6" y="450.0" fill="#000" font-size="11" font-weight="normal" text-anchor="start" xml:space="preserve" >40</text>
<text x="1255.6" y="473.2" fill="#000" font-size="11" font-weight="normal" text-anchor="start" xml:space="preserve" >20</text>
<rect x="1249" y="430" width="55" height="13" fill="#00007f" shape-rendering="crispEdges"/>
<text x="1250.0" y="440.6" fill="#fff" font-size="11" font-weight="bold" text-anchor="start" textLength="36.8" lengthAdjust="spacingAndGlyphs" xml:space="preserve" >47.921</text>
<rect x="1255.5" y="488.5" width="28" height="12" fill="#fff" stroke="#c8c8c8" stroke-width="1" shape-rendering="crispEdges"/>
<text x="1257.0" y="498.5" fill="#c8c8c8" font-size="11" font-weight="bold" text-anchor="start" textLength="25.6" lengthAdjust="spacingAndGlyphs" xml:space="preserve" >Auto</text>
<text x="1254.1" y="530.5" fill="#c8c8c8" font-size="11" font-weight="bold" text-anchor="start" textLength="30.3" lengthAdjust="spacingAndGlyphs" xml:space="preserve" >Value</text>
<text x="1256.0" y="562.5" fill="#000" font-size="11" font-weight="normal" text-anchor="start" xml:space="preserve" >0</text>
<rect x="1249" y="530" width="55" height="13" fill="#ff0000" shape-rendering="crispEdges"/>
<text x="1250.0" y="540.6" fill="#200000" font-size="11" font-weight="normal" text-anchor="start" xml:space="preserve" >0.20</text>
<rect x="1249" y="543" width="55" height="13" fill="#003c00" shape-rendering="crispEdges"/>
<text x="1250.0" y="553.6" fill="#ffffe0" font-size="11" font-weight="normal" text-anchor="start" xml:space="preserve" >0.11</text>
<rect x="1249" y="560" width="55" height="13" fill="#0a3c78" shape-rendering="crispEdges"/>
<text x="1250.0" y="570.6" fill="#fff" font-size="11" font-weight="bold" text-anchor="start" textLength="27.6" lengthAdjust="spacingAndGlyphs" xml:space="preserve" >-0.09</text>
<text x="1256.2" y="596.0" fill="#000" font-size="11" font-weight="normal" text-anchor="start" xml:space="preserve" >-0.4</text>
<rect x="1255.5" y="608.5" width="28" height="12" fill="#fff" stroke="#c8c8c8" stroke-width="1" shape-rendering="crispEdges"/>
<text x="1257.0" y="618.5" fill="#c8c8c8" font-size="11" font-weight="bold" text-anchor="start" textLength="25.6" lengthAdjust="spacingAndGlyphs" xml:space="preserve" >Auto</text>
<text x="1254.1" y="650.5" fill="#c8c8c8" font-size="11" font-weight="bold" text-anchor="start" textLength="30.3" lengthAdjust="spacingAndGlyphs" xml:space="preserve" >Value</text>
<text x="1254.4" y="665.4" fill="#c8c8c8" font-size="11" font-weight="bold" text-anchor="start" textLength="27.2" lengthAdjust="spacingAndGlyphs" xml:space="preserve" >/USD</text>
<rect x="1249" y="667" width="55" height="13" fill="#0000ff" shape-rendering="crispEdges"/>
<text x="1250.0" y="677.6" fill="#00005a" font-size="11" font-weight="normal" text-anchor="start" xml:space="preserve" >44.859</text>
<rect x="1249" y="680" width="55" height="13" fill="#800000" shape-rendering="crispEdges"/>
<text x="1250.0" y="690.6" fill="#fff" font-size="11" font-weight="bold" text-anchor="start" textLength="37.2" lengthAdjust="spacingAndGlyphs" xml:space="preserve" >41.822</text>
<rect x="1255.5" y="712.5" width="28" height="12" fill="#fff" stroke="#c8c8c8" stroke-width="1" shape-rendering="crispEdges"/>
<text x="1257.0" y="722.5" fill="#c8c8c8" font-size="11" font-weight="bold" text-anchor="start" textLength="25.6" lengthAdjust="spacingAndGlyphs" xml:space="preserve" >Auto</text>
<g shape-rendering="crispEdges">
<rect x="57" y="727" width="1" height="3" fill="#000"/>
<rect x="105" y="727" width="1" height="3" fill="#000"/>
<rect x="153" y="727" width="1" height="3" fill="#000"/>
<rect x="202" y="727" width="1" height="3" fill="#000"/>
<rect x="250" y="727" width="1" height="3" fill="#000"/>
<rect x="298" y="727" width="1" height="3" fill="#000"/>
<rect x="346" y="727" width="1" height="3" fill="#000"/>
<rect x="395" y="727" width="1" height="3" fill="#000"/>
<rect x="443" y="727" width="1" height="3" fill="#000"/>
<rect x="491" y="727" width="1" height="3" fill="#000"/>
<rect x="540" y="727" width="1" height="3" fill="#000"/>
<rect x="588" y="727" width="1" height="3" fill="#000"/>
<rect x="636" y="727" width="1" height="3" fill="#000"/>
<rect x="685" y="727" width="1" height="3" fill="#000"/>
<rect x="733" y="727" width="1" height="3" fill="#000"/>
<rect x="781" y="727" width="1" height="3" fill="#000"/>
<rect x="830" y="727" width="1" height="3" fill="#000"/>
<rect x="878" y="727" width="1" height="3" fill="#000"/>
<rect x="926" y="727" width="1" height="3" fill="#000"/>
<rect x="974" y="727" width="1" height="3" fill="#000"/>
<rect x="1023" y="727" width="1" height="3" fill="#000"/>
<rect x="1071" y="727" width="1" height="3" fill="#000"/>
<rect x="1119" y="727" width="1" height="3" fill="#000"/>
<rect x="1168" y="727" width="1" height="3" fill="#000"/>
<rect x="1216" y="727" width="1" height="3" fill="#000"/>
<rect x="202" y="727" width="1" height="3" fill="#000"/>
<rect x="202" y="743" width="1" height="13" fill="#000"/>
<rect x="424" y="727" width="1" height="3" fill="#000"/>
<rect x="424" y="743" width="1" height="13" fill="#000"/>
<rect x="636" y="727" width="1" height="3" fill="#000"/>
<rect x="636" y="743" width="1" height="13" fill="#000"/>
<rect x="839" y="727" width="1" height="3" fill="#000"/>
<rect x="839" y="743" width="1" height="13" fill="#000"/>
<rect x="1061" y="727" width="1" height="3" fill="#000"/>
<rect x="1061" y="743" width="1" height="13" fill="#000"/>
</g>
<text x="56.9" y="739.8" fill="#000" font-size="11" font-weight="normal" text-anchor="middle" xml:space="preserve" >10</text>
<text x="104.9" y="739.8" fill="#000" font-size="11" font-weight="normal" text-anchor="middle" xml:space="preserve" >17</text>
<text x="152.9" y="739.8" fill="#000" font-size="11" font-weight="normal" text-anchor="middle" xml:space="preserve" >24</text>
<text x="201.9" y="739.8" fill="#000" font-size="11" font-weight="normal" text-anchor="middle" xml:space="preserve" >01</text>
<text x="249.9" y="739.8" fill="#000" font-size="11" font-weight="normal" text-anchor="middle" xml:space="preserve" >08</text>
<text x="297.9" y="739.8" fill="#000" font-size="11" font-weight="normal" text-anchor="middle" xml:space="preserve" >15</text>
<text x="345.9" y="739.8" fill="#000" font-size="11" font-weight="normal" text-anchor="middle" xml:space="preserve" >22</text>
<text x="394.9" y="739.8" fill="#000" font-size="11" font-weight="normal" text-anchor="middle" xml:space="preserve" >29</text>
<text x="442.9" y="739.8" fill="#000" font-size="11" font-weight="normal" text-anchor="middle" xml:space="preserve" >05</text>
<text x="490.9" y="739.8" fill="#000" font-size="11" font-weight="normal" text-anchor="middle" xml:space="preserve" >12</text>
<text x="539.9" y="739.8" fill="#000" font-size="11" font-weight="normal" text-anchor="middle" xml:space="preserve" >19</text>
<text x="587.9" y="739.8" fill="#000" font-size="11" font-weight="normal" text-anchor="middle" xml:space="preserve" >26</text>
<text x="635.9" y="739.8" fill="#000" font-size="11" font-weight="normal" text-anchor="middle" xml:space="preserve" >02</text>
<text x="684.9" y="739.8" fill="#000" font-size="11" font-weight="normal" text-anchor="middle" xml:space="preserve" >09</text>
<text x="732.9" y="739.8" fill="#000" font-size="11" font-weight="normal" text-anchor="middle" xml:space="preserve" >16</text>
<text x="780.9" y="739.8" fill="#000" font-size="11" font-weight="normal" text-anchor="middle" xml:space="preserve" >23</text>
<text x="829.9" y="739.8" fill="#000" font-size="11" font-weight="normal" text-anchor="middle" xml:space="preserve" >30</text>
<text x="877.9" y="739.8" fill="#000" font-size="11" font-weight="normal" text-anchor="middle" xml:space="preserve" >07</text>
<text x="925.9" y="739.8" fill="#000" font-size="11" font-weight="normal" text-anchor="middle" xml:space="preserve" >14</text>
<text x="973.9" y="739.8" fill="#000" font-size="11" font-weight="normal" text-anchor="middle" xml:space="preserve" >21</text>
<text x="1022.9" y="739.8" fill="#000" font-size="11" font-weight="normal" text-anchor="middle" xml:space="preserve" >28</text>
<text x="1070.9" y="739.8" fill="#000" font-size="11" font-weight="normal" text-anchor="middle" xml:space="preserve" >04</text>
<text x="1118.9" y="739.8" fill="#000" font-size="11" font-weight="normal" text-anchor="middle" xml:space="preserve" >11</text>
<text x="1167.9" y="739.8" fill="#000" font-size="11" font-weight="normal" text-anchor="middle" xml:space="preserve" >18</text>
<text x="1215.9" y="739.8" fill="#000" font-size="11" font-weight="normal" text-anchor="middle" xml:space="preserve" >25</text>
<text x="79.0" y="752.8" fill="#000" font-size="11" font-weight="bold" text-anchor="start" textLength="57.5" lengthAdjust="spacingAndGlyphs" xml:space="preserve" >June 2019</text>
<text x="285.5" y="752.8" fill="#000" font-size="11" font-weight="bold" text-anchor="start" textLength="55.0" lengthAdjust="spacingAndGlyphs" xml:space="preserve" >July 2019</text>
<text x="493.5" y="752.8" fill="#000" font-size="11" font-weight="bold" text-anchor="start" textLength="71.5" lengthAdjust="spacingAndGlyphs" xml:space="preserve" >August 2019</text>
<text x="689.5" y="752.8" fill="#000" font-size="11" font-weight="bold" text-anchor="start" textLength="94.0" lengthAdjust="spacingAndGlyphs" xml:space="preserve" >September 2019</text>
<text x="912.0" y="752.8" fill="#000" font-size="11" font-weight="bold" text-anchor="start" textLength="76.0" lengthAdjust="spacingAndGlyphs" xml:space="preserve" >October 2019</text>
<text x="1109.5" y="752.8" fill="#000" font-size="11" font-weight="bold" text-anchor="start" textLength="89.0" lengthAdjust="spacingAndGlyphs" xml:space="preserve" >November 2019</text>
</svg>
</body></html>
